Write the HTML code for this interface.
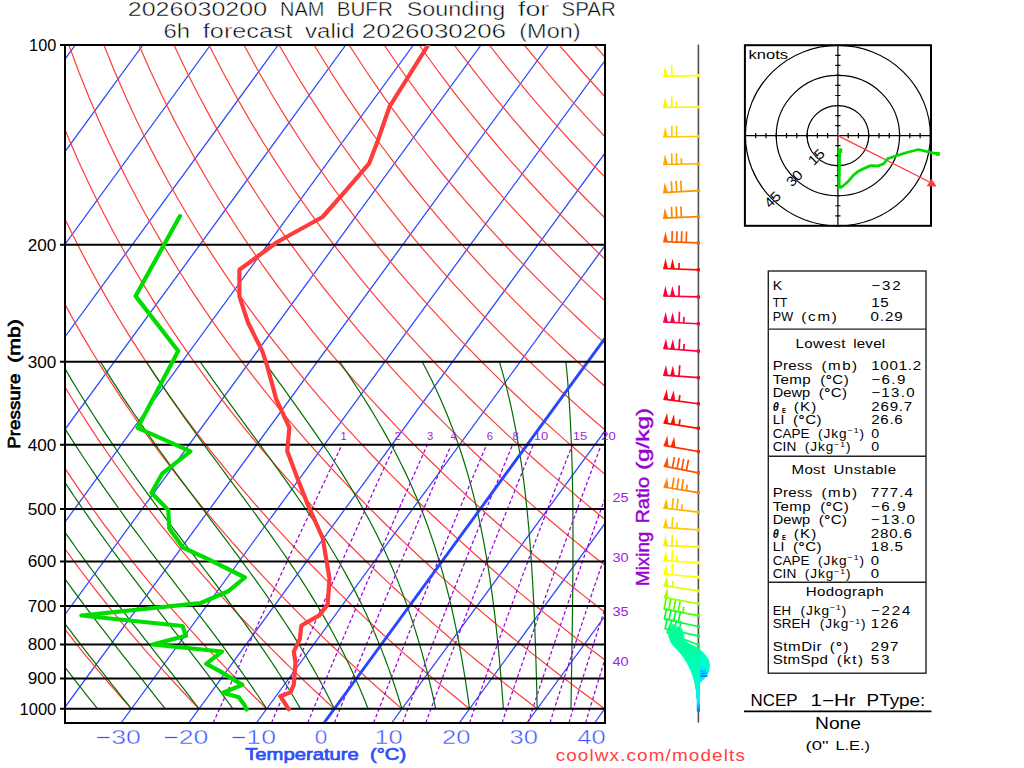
<!DOCTYPE html>
<html><head><meta charset="utf-8"><title>NAM BUFR Sounding SPAR</title><style>
html,body{margin:0;padding:0;background:#fff;}
body{width:1024px;height:768px;overflow:hidden;}
svg{display:block;}
.iso{stroke:#2a46ff;stroke-width:1.25;fill:none;}
.iso0{stroke:#2846ff;stroke-width:2.9;fill:none;}
.dry{stroke:#ff3c3c;stroke-width:1.2;fill:none;}
.moist{stroke:#006e00;stroke-width:1.2;fill:none;}
.mr{stroke:#a000e0;stroke-width:1.25;fill:none;stroke-dasharray:3.6 2.4;}
.pl{stroke:#000;stroke-width:2;}
.box{stroke:#000;stroke-width:2;fill:none;}
.temp{stroke:#ff3c3c;stroke-width:4.2;fill:none;stroke-linejoin:round;stroke-linecap:round;}
.dewp{stroke:#00dc00;stroke-width:4.2;fill:none;stroke-linejoin:round;stroke-linecap:round;}
text{font-family:"Liberation Sans",sans-serif;}
</style></head><body>
<svg width="1024" height="768" viewBox="0 0 1024 768">
<defs><clipPath id="box"><rect x="65" y="45" width="540" height="678"/></clipPath></defs>
<defs><clipPath id="hbox"><rect x="744.9" y="45.2" width="186.1" height="180.6"/></clipPath></defs>
<rect width="1024" height="768" fill="#fff"/>
<g clip-path="url(#box)">
<line x1="-690.52" y1="723.00" x2="-195.24" y2="45.00" class="iso"/>
<line x1="-622.89" y1="723.00" x2="-127.61" y2="45.00" class="iso"/>
<line x1="-555.26" y1="723.00" x2="-59.98" y2="45.00" class="iso"/>
<line x1="-487.63" y1="723.00" x2="7.65" y2="45.00" class="iso"/>
<line x1="-420.00" y1="723.00" x2="75.28" y2="45.00" class="iso"/>
<line x1="-352.37" y1="723.00" x2="142.91" y2="45.00" class="iso"/>
<line x1="-284.74" y1="723.00" x2="210.54" y2="45.00" class="iso"/>
<line x1="-217.11" y1="723.00" x2="278.17" y2="45.00" class="iso"/>
<line x1="-149.48" y1="723.00" x2="345.80" y2="45.00" class="iso"/>
<line x1="-81.85" y1="723.00" x2="413.43" y2="45.00" class="iso"/>
<line x1="-14.22" y1="723.00" x2="481.06" y2="45.00" class="iso"/>
<line x1="53.41" y1="723.00" x2="548.69" y2="45.00" class="iso"/>
<line x1="121.04" y1="723.00" x2="616.32" y2="45.00" class="iso"/>
<line x1="188.67" y1="723.00" x2="683.95" y2="45.00" class="iso"/>
<line x1="256.30" y1="723.00" x2="751.58" y2="45.00" class="iso"/>
<line x1="391.56" y1="723.00" x2="886.84" y2="45.00" class="iso"/>
<line x1="459.19" y1="723.00" x2="954.47" y2="45.00" class="iso"/>
<line x1="526.82" y1="723.00" x2="1022.10" y2="45.00" class="iso"/>
<line x1="594.45" y1="723.00" x2="1089.73" y2="45.00" class="iso"/>
<line x1="662.08" y1="723.00" x2="1157.36" y2="45.00" class="iso"/>
<polyline points="63.77,708.81 61.37,705.91 58.95,702.99 56.52,700.03 54.08,697.04 51.63,694.02 49.17,690.97 46.70,687.89 44.21,684.77 41.71,681.62 39.20,678.44 36.68,675.22 34.14,671.96 31.59,668.66 29.03,665.33 26.46,661.96 23.87,658.55 21.27,655.10 18.65,651.60 16.02,648.06 13.38,644.48 10.72,640.86 8.05,637.18 5.36,633.46 2.66,629.69 -0.06,625.88 -2.79,622.01 -5.54,618.08 -8.30,614.11 -11.08,610.08 -13.88,605.99 -16.69,601.84 -19.52,597.63 -22.36,593.36 -25.22,589.02 -28.10,584.62 -31.00,580.15 -33.92,575.61 -36.85,571.00 -39.80,566.31 -42.77,561.55 -45.76,556.70 -48.76,551.77 -51.79,546.76 -54.84,541.66 -57.90,536.46 -60.99,531.17 -64.09,525.78 -67.22,520.29 -70.37,514.69 -73.54,508.98 -76.73,503.16 -79.94,497.22 -83.17,491.15 -86.43,484.95 -89.70,478.61 -93.00,472.13 -96.33,465.50 -99.67,458.72 -103.04,451.77 -106.43,444.65 -109.85,437.36 -113.29,429.87 -116.75,422.18 -120.23,414.28 -123.74,406.16 -127.27,397.80 -130.82,389.20 -134.40,380.32 -137.99,371.17 -141.61,361.72 -145.24,351.95 -148.90,341.83 -152.57,331.34 -156.25,320.46 -159.95,309.16 -163.66,297.39 -167.37,285.12 -171.08,272.30 -174.79,258.89 -178.49,244.83 -182.18,230.04 -185.83,214.45 -189.44,197.97 -192.99,180.50 -196.47,161.89 -199.83,142.00 -203.06,120.64 -206.11,97.56 -208.91,72.48 -211.38,45.00" class="dry"/>
<polyline points="131.40,708.81 128.80,705.91 126.19,702.99 123.57,700.03 120.93,697.04 118.28,694.02 115.62,690.97 112.94,687.89 110.25,684.77 107.55,681.62 104.83,678.44 102.09,675.22 99.35,671.96 96.59,668.66 93.81,665.33 91.02,661.96 88.21,658.55 85.39,655.10 82.55,651.60 79.70,648.06 76.83,644.48 73.94,640.86 71.04,637.18 68.12,633.46 65.19,629.69 62.23,625.88 59.26,622.01 56.28,618.08 53.27,614.11 50.24,610.08 47.20,605.99 44.14,601.84 41.06,597.63 37.96,593.36 34.83,589.02 31.69,584.62 28.53,580.15 25.35,575.61 22.15,571.00 18.92,566.31 15.68,561.55 12.41,556.70 9.12,551.77 5.81,546.76 2.47,541.66 -0.89,536.46 -4.27,531.17 -7.68,525.78 -11.12,520.29 -14.57,514.69 -18.06,508.98 -21.57,503.16 -25.10,497.22 -28.66,491.15 -32.25,484.95 -35.87,478.61 -39.51,472.13 -43.19,465.50 -46.89,458.72 -50.62,451.77 -54.38,444.65 -58.17,437.36 -61.99,429.87 -65.84,422.18 -69.72,414.28 -73.64,406.16 -77.58,397.80 -81.55,389.20 -85.56,380.32 -89.59,371.17 -93.66,361.72 -97.76,351.95 -101.89,341.83 -106.04,331.34 -110.23,320.46 -114.44,309.16 -118.67,297.39 -122.93,285.12 -127.20,272.30 -131.49,258.89 -135.79,244.83 -140.10,230.04 -144.39,214.45 -148.67,197.97 -152.93,180.50 -157.13,161.89 -161.27,142.00 -165.31,120.64 -169.21,97.56 -172.91,72.48 -176.35,45.00" class="dry"/>
<polyline points="199.03,708.81 196.24,705.91 193.43,702.99 190.61,700.03 187.78,697.04 184.93,694.02 182.06,690.97 179.18,687.89 176.29,684.77 173.38,681.62 170.45,678.44 167.51,675.22 164.55,671.96 161.58,668.66 158.59,665.33 155.58,661.96 152.56,658.55 149.51,655.10 146.46,651.60 143.38,648.06 140.28,644.48 137.17,640.86 134.04,637.18 130.89,633.46 127.72,629.69 124.53,625.88 121.32,622.01 118.09,618.08 114.84,614.11 111.57,610.08 108.28,605.99 104.97,601.84 101.63,597.63 98.27,593.36 94.89,589.02 91.49,584.62 88.07,580.15 84.62,575.61 81.14,571.00 77.65,566.31 74.12,561.55 70.58,556.70 67.00,551.77 63.40,546.76 59.78,541.66 56.12,536.46 52.44,531.17 48.73,525.78 44.99,520.29 41.22,514.69 37.42,508.98 33.59,503.16 29.74,497.22 25.84,491.15 21.92,484.95 17.97,478.61 13.98,472.13 9.95,465.50 5.89,458.72 1.80,451.77 -2.33,444.65 -6.49,437.36 -10.69,429.87 -14.93,422.18 -19.21,414.28 -23.53,406.16 -27.89,397.80 -32.28,389.20 -36.72,380.32 -41.20,371.17 -45.72,361.72 -50.28,351.95 -54.88,341.83 -59.52,331.34 -64.20,320.46 -68.93,309.16 -73.69,297.39 -78.49,285.12 -83.32,272.30 -88.19,258.89 -93.09,244.83 -98.02,230.04 -102.96,214.45 -107.91,197.97 -112.86,180.50 -117.80,161.89 -122.71,142.00 -127.55,120.64 -132.30,97.56 -136.92,72.48 -141.32,45.00" class="dry"/>
<polyline points="266.66,708.81 263.67,705.91 260.67,702.99 257.66,700.03 254.62,697.04 251.57,694.02 248.51,690.97 245.43,687.89 242.33,684.77 239.21,681.62 236.08,678.44 232.93,675.22 229.76,671.96 226.57,668.66 223.37,665.33 220.14,661.96 216.90,658.55 213.64,655.10 210.36,651.60 207.06,648.06 203.74,644.48 200.40,640.86 197.03,637.18 193.65,633.46 190.25,629.69 186.82,625.88 183.37,622.01 179.90,618.08 176.41,614.11 172.90,610.08 169.36,605.99 165.79,601.84 162.20,597.63 158.59,593.36 154.95,589.02 151.29,584.62 147.60,580.15 143.88,575.61 140.14,571.00 136.37,566.31 132.57,561.55 128.74,556.70 124.89,551.77 121.00,546.76 117.08,541.66 113.13,536.46 109.15,531.17 105.14,525.78 101.09,520.29 97.02,514.69 92.90,508.98 88.76,503.16 84.57,497.22 80.35,491.15 76.09,484.95 71.80,478.61 67.47,472.13 63.09,465.50 58.68,458.72 54.22,451.77 49.73,444.65 45.19,437.36 40.60,429.87 35.97,422.18 31.30,414.28 26.57,406.16 21.80,397.80 16.99,389.20 12.12,380.32 7.20,371.17 2.23,361.72 -2.79,351.95 -7.87,341.83 -12.99,331.34 -18.18,320.46 -23.41,309.16 -28.70,297.39 -34.05,285.12 -39.44,272.30 -44.89,258.89 -50.39,244.83 -55.94,230.04 -61.52,214.45 -67.15,197.97 -72.80,180.50 -78.47,161.89 -84.14,142.00 -89.80,120.64 -95.40,97.56 -100.92,72.48 -106.29,45.00" class="dry"/>
<polyline points="334.29,708.81 331.11,705.91 327.91,702.99 324.70,700.03 321.47,697.04 318.22,694.02 314.95,690.97 311.67,687.89 308.36,684.77 305.04,681.62 301.70,678.44 298.34,675.22 294.96,671.96 291.56,668.66 288.14,665.33 284.70,661.96 281.24,658.55 277.76,655.10 274.26,651.60 270.74,648.06 267.19,644.48 263.62,640.86 260.03,637.18 256.42,633.46 252.78,629.69 249.12,625.88 245.43,622.01 241.72,618.08 237.98,614.11 234.22,610.08 230.43,605.99 226.62,601.84 222.78,597.63 218.91,593.36 215.01,589.02 211.09,584.62 207.13,580.15 203.15,575.61 199.14,571.00 195.09,566.31 191.02,561.55 186.91,556.70 182.77,551.77 178.59,546.76 174.39,541.66 170.14,536.46 165.87,531.17 161.55,525.78 157.20,520.29 152.81,514.69 148.38,508.98 143.92,503.16 139.41,497.22 134.86,491.15 130.27,484.95 125.63,478.61 120.96,472.13 116.23,465.50 111.46,458.72 106.65,451.77 101.78,444.65 96.86,437.36 91.90,429.87 86.88,422.18 81.81,414.28 76.68,406.16 71.50,397.80 66.26,389.20 60.96,380.32 55.60,371.17 50.18,361.72 44.69,351.95 39.14,341.83 33.53,331.34 27.85,320.46 22.10,309.16 16.28,297.39 10.39,285.12 4.44,272.30 -1.59,258.89 -7.69,244.83 -13.85,230.04 -20.09,214.45 -26.38,197.97 -32.73,180.50 -39.14,161.89 -45.58,142.00 -52.04,120.64 -58.50,97.56 -64.92,72.48 -71.26,45.00" class="dry"/>
<polyline points="401.92,708.81 398.55,705.91 395.15,702.99 391.74,700.03 388.31,697.04 384.87,694.02 381.40,690.97 377.91,687.89 374.40,684.77 370.87,681.62 367.33,678.44 363.76,675.22 360.17,671.96 356.55,668.66 352.92,665.33 349.27,661.96 345.59,658.55 341.89,655.10 338.16,651.60 334.41,648.06 330.64,644.48 326.85,640.86 323.03,637.18 319.18,633.46 315.31,629.69 311.41,625.88 307.48,622.01 303.53,618.08 299.55,614.11 295.55,610.08 291.51,605.99 287.45,601.84 283.35,597.63 279.23,593.36 275.07,589.02 270.89,584.62 266.67,580.15 262.42,575.61 258.13,571.00 253.82,566.31 249.46,561.55 245.08,556.70 240.65,551.77 236.19,546.76 231.69,541.66 227.15,536.46 222.58,531.17 217.96,525.78 213.30,520.29 208.61,514.69 203.86,508.98 199.08,503.16 194.24,497.22 189.37,491.15 184.44,484.95 179.47,478.61 174.45,472.13 169.37,465.50 164.25,458.72 159.07,451.77 153.83,444.65 148.54,437.36 143.19,429.87 137.79,422.18 132.32,414.28 126.78,406.16 121.19,397.80 115.53,389.20 109.79,380.32 103.99,371.17 98.12,361.72 92.18,351.95 86.15,341.83 80.05,331.34 73.87,320.46 67.61,309.16 61.27,297.39 54.84,285.12 48.32,272.30 41.71,258.89 35.01,244.83 28.23,230.04 21.35,214.45 14.38,197.97 7.33,180.50 0.20,161.89 -7.01,142.00 -14.28,120.64 -21.60,97.56 -28.93,72.48 -36.23,45.00" class="dry"/>
<polyline points="469.55,708.81 465.98,705.91 462.40,702.99 458.79,700.03 455.16,697.04 451.51,694.02 447.84,690.97 444.15,687.89 440.44,684.77 436.71,681.62 432.95,678.44 429.17,675.22 425.37,671.96 421.55,668.66 417.70,665.33 413.83,661.96 409.93,658.55 406.01,655.10 402.06,651.60 398.09,648.06 394.10,644.48 390.07,640.86 386.02,637.18 381.94,633.46 377.84,629.69 373.70,625.88 369.54,622.01 365.35,618.08 361.13,614.11 356.87,610.08 352.59,605.99 348.27,601.84 343.93,597.63 339.55,593.36 335.13,589.02 330.69,584.62 326.20,580.15 321.68,575.61 317.13,571.00 312.54,566.31 307.91,561.55 303.24,556.70 298.53,551.77 293.79,546.76 289.00,541.66 284.17,536.46 279.29,531.17 274.37,525.78 269.41,520.29 264.40,514.69 259.34,508.98 254.24,503.16 249.08,497.22 243.88,491.15 238.62,484.95 233.30,478.61 227.94,472.13 222.51,465.50 217.03,458.72 211.49,451.77 205.89,444.65 200.22,437.36 194.49,429.87 188.69,422.18 182.83,414.28 176.89,406.16 170.88,397.80 164.79,389.20 158.63,380.32 152.39,371.17 146.07,361.72 139.66,351.95 133.16,341.83 126.58,331.34 119.90,320.46 113.12,309.16 106.25,297.39 99.28,285.12 92.20,272.30 85.01,258.89 77.71,244.83 70.31,230.04 62.78,214.45 55.15,197.97 47.39,180.50 39.53,161.89 31.55,142.00 23.47,120.64 15.31,97.56 7.07,72.48 -1.20,45.00" class="dry"/>
<polyline points="537.18,708.81 533.42,705.91 529.64,702.99 525.83,700.03 522.01,697.04 518.16,694.02 514.29,690.97 510.39,687.89 506.48,684.77 502.54,681.62 498.57,678.44 494.59,675.22 490.58,671.96 486.54,668.66 482.48,665.33 478.39,661.96 474.27,658.55 470.13,655.10 465.97,651.60 461.77,648.06 457.55,644.48 453.30,640.86 449.02,637.18 444.71,633.46 440.37,629.69 436.00,625.88 431.60,622.01 427.16,618.08 422.70,614.11 418.20,610.08 413.67,605.99 409.10,601.84 404.50,597.63 399.87,593.36 395.19,589.02 390.48,584.62 385.74,580.15 380.95,575.61 376.13,571.00 371.26,566.31 366.36,561.55 361.41,556.70 356.42,551.77 351.38,546.76 346.30,541.66 341.18,536.46 336.01,531.17 330.78,525.78 325.51,520.29 320.19,514.69 314.82,508.98 309.40,503.16 303.92,497.22 298.38,491.15 292.79,484.95 287.14,478.61 281.43,472.13 275.65,465.50 269.81,458.72 263.91,451.77 257.94,444.65 251.90,437.36 245.79,429.87 239.60,422.18 233.34,414.28 226.99,406.16 220.57,397.80 214.06,389.20 207.47,380.32 200.79,371.17 194.01,361.72 187.14,351.95 180.17,341.83 173.10,331.34 165.92,320.46 158.64,309.16 151.24,297.39 143.72,285.12 136.08,272.30 128.31,258.89 120.42,244.83 112.39,230.04 104.22,214.45 95.91,197.97 87.46,180.50 78.86,161.89 70.12,142.00 61.23,120.64 52.21,97.56 43.07,72.48 33.83,45.00" class="dry"/>
<polyline points="604.81,708.81 600.86,705.91 596.88,702.99 592.88,700.03 588.85,697.04 584.80,694.02 580.73,690.97 576.64,687.89 572.52,684.77 568.37,681.62 564.20,678.44 560.00,675.22 555.78,671.96 551.53,668.66 547.25,665.33 542.95,661.96 538.62,658.55 534.26,655.10 529.87,651.60 525.45,648.06 521.00,644.48 516.52,640.86 512.01,637.18 507.47,633.46 502.90,629.69 498.29,625.88 493.65,622.01 488.98,618.08 484.27,614.11 479.53,610.08 474.75,605.99 469.93,601.84 465.08,597.63 460.18,593.36 455.25,589.02 450.28,584.62 445.27,580.15 440.22,575.61 435.12,571.00 429.98,566.31 424.80,561.55 419.57,556.70 414.30,551.77 408.98,546.76 403.61,541.66 398.19,536.46 392.72,531.17 387.20,525.78 381.62,520.29 375.99,514.69 370.30,508.98 364.56,503.16 358.75,497.22 352.89,491.15 346.96,484.95 340.97,478.61 334.92,472.13 328.79,465.50 322.60,458.72 316.33,451.77 309.99,444.65 303.58,437.36 297.08,429.87 290.51,422.18 283.85,414.28 277.10,406.16 270.26,397.80 263.33,389.20 256.31,380.32 249.19,371.17 241.96,361.72 234.63,351.95 227.18,341.83 219.63,331.34 211.95,320.46 204.15,309.16 196.22,297.39 188.16,285.12 179.96,272.30 171.61,258.89 163.12,244.83 154.47,230.04 145.65,214.45 136.67,197.97 127.52,180.50 118.19,161.89 108.68,142.00 98.99,120.64 89.11,97.56 79.06,72.48 68.86,45.00" class="dry"/>
<polyline points="672.44,708.81 668.29,705.91 664.12,702.99 659.92,700.03 655.70,697.04 651.45,694.02 647.18,690.97 642.88,687.89 638.55,684.77 634.20,681.62 629.82,678.44 625.42,675.22 620.98,671.96 616.52,668.66 612.03,665.33 607.51,661.96 602.96,658.55 598.38,655.10 593.77,651.60 589.13,648.06 584.45,644.48 579.75,640.86 575.01,637.18 570.23,633.46 565.43,629.69 560.58,625.88 555.71,622.01 550.79,618.08 545.84,614.11 540.85,610.08 535.82,605.99 530.76,601.84 525.65,597.63 520.50,593.36 515.31,589.02 510.08,584.62 504.80,580.15 499.48,575.61 494.12,571.00 488.71,566.31 483.25,561.55 477.74,556.70 472.18,551.77 466.57,546.76 460.91,541.66 455.20,536.46 449.43,531.17 443.61,525.78 437.72,520.29 431.78,514.69 425.78,508.98 419.72,503.16 413.59,497.22 407.40,491.15 401.14,484.95 394.81,478.61 388.41,472.13 381.93,465.50 375.38,458.72 368.75,451.77 362.05,444.65 355.25,437.36 348.38,429.87 341.41,422.18 334.35,414.28 327.20,406.16 319.95,397.80 312.60,389.20 305.15,380.32 297.58,371.17 289.91,361.72 282.11,351.95 274.19,341.83 266.15,331.34 257.98,320.46 249.66,309.16 241.21,297.39 232.60,285.12 223.84,272.30 214.91,258.89 205.82,244.83 196.55,230.04 187.09,214.45 177.44,197.97 167.59,180.50 157.52,161.89 147.25,142.00 136.74,120.64 126.02,97.56 115.06,72.48 103.88,45.00" class="dry"/>
<polyline points="740.07,708.81 735.73,705.91 731.36,702.99 726.96,700.03 722.54,697.04 718.10,694.02 713.62,690.97 709.12,687.89 704.59,684.77 700.03,681.62 695.45,678.44 690.83,675.22 686.19,671.96 681.51,668.66 676.81,665.33 672.07,661.96 667.31,658.55 662.51,655.10 657.67,651.60 652.81,648.06 647.91,644.48 642.97,640.86 638.00,637.18 633.00,633.46 627.96,629.69 622.88,625.88 617.76,622.01 612.61,618.08 607.41,614.11 602.18,610.08 596.90,605.99 591.58,601.84 586.22,597.63 580.82,593.36 575.37,589.02 569.88,584.62 564.34,580.15 558.75,575.61 553.12,571.00 547.43,566.31 541.69,561.55 535.91,556.70 530.07,551.77 524.17,546.76 518.22,541.66 512.21,536.46 506.14,531.17 500.02,525.78 493.83,520.29 487.58,514.69 481.26,508.98 474.88,503.16 468.43,497.22 461.91,491.15 455.31,484.95 448.64,478.61 441.90,472.13 435.07,465.50 428.17,458.72 421.18,451.77 414.10,444.65 406.93,437.36 399.67,429.87 392.32,422.18 384.86,414.28 377.31,406.16 369.65,397.80 361.87,389.20 353.99,380.32 345.98,371.17 337.85,361.72 329.60,351.95 321.20,341.83 312.68,331.34 304.00,320.46 295.17,309.16 286.19,297.39 277.04,285.12 267.72,272.30 258.21,258.89 248.52,244.83 238.63,230.04 228.52,214.45 218.20,197.97 207.65,180.50 196.86,161.89 185.81,142.00 174.50,120.64 162.92,97.56 151.06,72.48 138.91,45.00" class="dry"/>
<polyline points="807.70,708.81 803.16,705.91 798.60,702.99 794.01,700.03 789.39,697.04 784.74,694.02 780.07,690.97 775.36,687.89 770.63,684.77 765.87,681.62 761.07,678.44 756.25,675.22 751.39,671.96 746.51,668.66 741.59,665.33 736.64,661.96 731.65,658.55 726.63,655.10 721.58,651.60 716.49,648.06 711.36,644.48 706.20,640.86 701.00,637.18 695.76,633.46 690.49,629.69 685.17,625.88 679.82,622.01 674.42,618.08 668.98,614.11 663.50,610.08 657.98,605.99 652.41,601.84 646.80,597.63 641.14,593.36 635.43,589.02 629.68,584.62 623.87,580.15 618.02,575.61 612.11,571.00 606.15,566.31 600.14,561.55 594.07,556.70 587.95,551.77 581.77,546.76 575.53,541.66 569.22,536.46 562.86,531.17 556.43,525.78 549.93,520.29 543.37,514.69 536.74,508.98 530.04,503.16 523.26,497.22 516.41,491.15 509.49,484.95 502.48,478.61 495.39,472.13 488.21,465.50 480.95,458.72 473.60,451.77 466.15,444.65 458.61,437.36 450.97,429.87 443.23,422.18 435.37,414.28 427.41,406.16 419.34,397.80 411.14,389.20 402.82,380.32 394.38,371.17 385.80,361.72 377.08,351.95 368.22,341.83 359.20,331.34 350.03,320.46 340.69,309.16 331.18,297.39 321.48,285.12 311.60,272.30 301.52,258.89 291.22,244.83 280.71,230.04 269.96,214.45 258.97,197.97 247.71,180.50 236.19,161.89 224.38,142.00 212.26,120.64 199.82,97.56 187.05,72.48 173.94,45.00" class="dry"/>
<polyline points="875.33,708.81 870.60,705.91 865.84,702.99 861.05,700.03 856.23,697.04 851.39,694.02 846.51,690.97 841.61,687.89 836.67,684.77 831.70,681.62 826.70,678.44 821.66,675.22 816.60,671.96 811.50,668.66 806.37,665.33 801.20,661.96 795.99,658.55 790.75,655.10 785.48,651.60 780.16,648.06 774.81,644.48 769.42,640.86 764.00,637.18 758.53,633.46 753.02,629.69 747.47,625.88 741.87,622.01 736.24,618.08 730.55,614.11 724.83,610.08 719.06,605.99 713.24,601.84 707.37,597.63 701.46,593.36 695.49,589.02 689.48,584.62 683.41,580.15 677.28,575.61 671.11,571.00 664.88,566.31 658.59,561.55 652.24,556.70 645.83,551.77 639.36,546.76 632.83,541.66 626.23,536.46 619.57,531.17 612.84,525.78 606.04,520.29 599.17,514.69 592.22,508.98 585.20,503.16 578.10,497.22 570.92,491.15 563.66,484.95 556.31,478.61 548.88,472.13 541.35,465.50 533.73,458.72 526.02,451.77 518.21,444.65 510.29,437.36 502.27,429.87 494.13,422.18 485.88,414.28 477.52,406.16 469.03,397.80 460.41,389.20 451.66,380.32 442.78,371.17 433.74,361.72 424.56,351.95 415.23,341.83 405.72,331.34 396.05,320.46 386.20,309.16 376.16,297.39 365.92,285.12 355.48,272.30 344.82,258.89 333.92,244.83 322.79,230.04 311.40,214.45 299.73,197.97 287.78,180.50 275.52,161.89 262.94,142.00 250.01,120.64 236.73,97.56 223.05,72.48 208.97,45.00" class="dry"/>
<polyline points="942.96,708.81 938.04,705.91 933.08,702.99 928.10,700.03 923.08,697.04 918.03,694.02 912.96,690.97 907.85,687.89 902.71,684.77 897.53,681.62 892.32,678.44 887.08,675.22 881.80,671.96 876.49,668.66 871.14,665.33 865.76,661.96 860.34,658.55 854.88,655.10 849.38,651.60 843.84,648.06 838.27,644.48 832.65,640.86 826.99,637.18 821.29,633.46 815.55,629.69 809.76,625.88 803.93,622.01 798.05,618.08 792.13,614.11 786.15,610.08 780.13,605.99 774.07,601.84 767.95,597.63 761.77,593.36 755.55,589.02 749.27,584.62 742.94,580.15 736.55,575.61 730.11,571.00 723.60,566.31 717.03,561.55 710.41,556.70 703.71,551.77 696.96,546.76 690.14,541.66 683.25,536.46 676.28,531.17 669.25,525.78 662.14,520.29 654.96,514.69 647.70,508.98 640.36,503.16 632.94,497.22 625.43,491.15 617.83,484.95 610.15,478.61 602.37,472.13 594.49,465.50 586.52,458.72 578.44,451.77 570.26,444.65 561.97,437.36 553.56,429.87 545.04,422.18 536.39,414.28 527.62,406.16 518.72,397.80 509.68,389.20 500.50,380.32 491.17,371.17 481.69,361.72 472.05,351.95 462.24,341.83 452.25,331.34 442.08,320.46 431.71,309.16 421.15,297.39 410.36,285.12 399.36,272.30 388.12,258.89 376.63,244.83 364.87,230.04 352.83,214.45 340.50,197.97 327.84,180.50 314.85,161.89 301.50,142.00 287.77,120.64 273.63,97.56 259.05,72.48 244.00,45.00" class="dry"/>
<polyline points="1010.59,708.81 1005.47,705.91 1000.32,702.99 995.14,700.03 989.93,697.04 984.68,694.02 979.40,690.97 974.09,687.89 968.74,684.77 963.36,681.62 957.95,678.44 952.50,675.22 947.01,671.96 941.48,668.66 935.92,665.33 930.32,661.96 924.68,658.55 919.00,655.10 913.28,651.60 907.52,648.06 901.72,644.48 895.87,640.86 889.99,637.18 884.05,633.46 878.08,629.69 872.05,625.88 865.98,622.01 859.86,618.08 853.70,614.11 847.48,610.08 841.21,605.99 834.89,601.84 828.52,597.63 822.09,593.36 815.61,589.02 809.07,584.62 802.47,580.15 795.82,575.61 789.10,571.00 782.32,566.31 775.48,561.55 768.57,556.70 761.60,551.77 754.55,546.76 747.44,541.66 740.26,536.46 733.00,531.17 725.66,525.78 718.25,520.29 710.76,514.69 703.18,508.98 695.52,503.16 687.77,497.22 679.94,491.15 672.01,484.95 663.98,478.61 655.86,472.13 647.63,465.50 639.30,458.72 630.86,451.77 622.31,444.65 613.64,437.36 604.86,429.87 595.95,422.18 586.90,414.28 577.73,406.16 568.41,397.80 558.95,389.20 549.34,380.32 539.57,371.17 529.64,361.72 519.53,351.95 509.25,341.83 498.77,331.34 488.10,320.46 477.22,309.16 466.13,297.39 454.81,285.12 443.24,272.30 431.42,258.89 419.33,244.83 406.95,230.04 394.27,214.45 381.26,197.97 367.91,180.50 354.19,161.89 340.07,142.00 325.53,120.64 310.53,97.56 295.05,72.48 279.03,45.00" class="dry"/>
<polyline points="1078.22,708.81 1072.91,705.91 1067.56,702.99 1062.18,700.03 1056.77,697.04 1051.33,694.02 1045.85,690.97 1040.33,687.89 1034.78,684.77 1029.19,681.62 1023.57,678.44 1017.91,675.22 1012.21,671.96 1006.47,668.66 1000.70,665.33 994.88,661.96 989.02,658.55 983.13,655.10 977.18,651.60 971.20,648.06 965.17,644.48 959.10,640.86 952.98,637.18 946.82,633.46 940.61,629.69 934.35,625.88 928.04,622.01 921.68,618.08 915.27,614.11 908.81,610.08 902.29,605.99 895.72,601.84 889.09,597.63 882.41,593.36 875.67,589.02 868.87,584.62 862.01,580.15 855.09,575.61 848.10,571.00 841.05,566.31 833.93,561.55 826.74,556.70 819.48,551.77 812.15,546.76 804.75,541.66 797.27,536.46 789.71,531.17 782.07,525.78 774.35,520.29 766.55,514.69 758.66,508.98 750.68,503.16 742.61,497.22 734.44,491.15 726.18,484.95 717.82,478.61 709.35,472.13 700.77,465.50 692.09,458.72 683.28,451.77 674.37,444.65 665.32,437.36 656.15,429.87 646.85,422.18 637.41,414.28 627.83,406.16 618.10,397.80 608.22,389.20 598.18,380.32 587.97,371.17 577.58,361.72 567.01,351.95 556.26,341.83 545.30,331.34 534.13,320.46 522.74,309.16 511.11,297.39 499.25,285.12 487.12,272.30 474.72,258.89 462.03,244.83 449.03,230.04 435.70,214.45 422.02,197.97 407.97,180.50 393.52,161.89 378.63,142.00 363.28,120.64 347.43,97.56 331.04,72.48 314.06,45.00" class="dry"/>
<polyline points="1145.85,708.81 1140.34,705.91 1134.80,702.99 1129.23,700.03 1123.62,697.04 1117.97,694.02 1112.29,690.97 1106.57,687.89 1100.82,684.77 1095.03,681.62 1089.20,678.44 1083.33,675.22 1077.42,671.96 1071.47,668.66 1065.48,665.33 1059.44,661.96 1053.37,658.55 1047.25,655.10 1041.09,651.60 1034.88,648.06 1028.63,644.48 1022.33,640.86 1015.98,637.18 1009.58,633.46 1003.14,629.69 996.64,625.88 990.09,622.01 983.49,618.08 976.84,614.11 970.13,610.08 963.37,605.99 956.55,601.84 949.67,597.63 942.73,593.36 935.73,589.02 928.67,584.62 921.54,580.15 914.35,575.61 907.09,571.00 899.77,566.31 892.37,561.55 884.90,556.70 877.36,551.77 869.75,546.76 862.05,541.66 854.28,536.46 846.42,531.17 838.48,525.78 830.46,520.29 822.35,514.69 814.14,508.98 805.84,503.16 797.45,497.22 788.95,491.15 780.35,484.95 771.65,478.61 762.84,472.13 753.91,465.50 744.87,458.72 735.71,451.77 726.42,444.65 717.00,437.36 707.45,429.87 697.76,422.18 687.92,414.28 677.94,406.16 667.80,397.80 657.49,389.20 647.02,380.32 636.36,371.17 625.53,361.72 614.50,351.95 603.27,341.83 591.82,331.34 580.15,320.46 568.25,309.16 556.10,297.39 543.69,285.12 531.00,272.30 518.02,258.89 504.73,244.83 491.11,230.04 477.14,214.45 462.79,197.97 448.04,180.50 432.85,161.89 417.20,142.00 401.04,120.64 384.34,97.56 367.04,72.48 349.09,45.00" class="dry"/>
<polyline points="1213.48,708.81 1207.78,705.91 1202.04,702.99 1196.27,700.03 1190.46,697.04 1184.62,694.02 1178.74,690.97 1172.82,687.89 1166.86,684.77 1160.86,681.62 1154.82,678.44 1148.74,675.22 1142.62,671.96 1136.46,668.66 1130.25,665.33 1124.00,661.96 1117.71,658.55 1111.37,655.10 1104.99,651.60 1098.56,648.06 1092.08,644.48 1085.55,640.86 1078.97,637.18 1072.35,633.46 1065.67,629.69 1058.93,625.88 1052.15,622.01 1045.31,618.08 1038.41,614.11 1031.46,610.08 1024.45,605.99 1017.37,601.84 1010.24,597.63 1003.05,593.36 995.79,589.02 988.47,584.62 981.08,580.15 973.62,575.61 966.09,571.00 958.49,566.31 950.82,561.55 943.07,556.70 935.25,551.77 927.34,546.76 919.36,541.66 911.29,536.46 903.14,531.17 894.90,525.78 886.56,520.29 878.14,514.69 869.62,508.98 861.00,503.16 852.28,497.22 843.46,491.15 834.53,484.95 825.49,478.61 816.33,472.13 807.05,465.50 797.65,458.72 788.13,451.77 778.47,444.65 768.68,437.36 758.75,429.87 748.67,422.18 738.43,414.28 728.04,406.16 717.49,397.80 706.76,389.20 695.85,380.32 684.76,371.17 673.47,361.72 661.98,351.95 650.28,341.83 638.35,331.34 626.18,320.46 613.76,309.16 601.08,297.39 588.13,285.12 574.88,272.30 561.32,258.89 547.43,244.83 533.19,230.04 518.57,214.45 503.55,197.97 488.10,180.50 472.18,161.89 455.76,142.00 438.80,120.64 421.24,97.56 403.04,72.48 384.12,45.00" class="dry"/>
<polyline points="1281.11,708.81 1275.22,705.91 1269.28,702.99 1263.32,700.03 1257.31,697.04 1251.27,694.02 1245.18,690.97 1239.06,687.89 1232.90,684.77 1226.69,681.62 1220.45,678.44 1214.16,675.22 1207.83,671.96 1201.45,668.66 1195.03,665.33 1188.57,661.96 1182.06,658.55 1175.50,655.10 1168.89,651.60 1162.24,648.06 1155.53,644.48 1148.78,640.86 1141.97,637.18 1135.11,633.46 1128.20,629.69 1121.23,625.88 1114.20,622.01 1107.12,618.08 1099.98,614.11 1092.78,610.08 1085.52,605.99 1078.20,601.84 1070.82,597.63 1063.37,593.36 1055.85,589.02 1048.26,584.62 1040.61,580.15 1032.89,575.61 1025.09,571.00 1017.21,566.31 1009.27,561.55 1001.24,556.70 993.13,551.77 984.94,546.76 976.66,541.66 968.30,536.46 959.85,531.17 951.31,525.78 942.67,520.29 933.94,514.69 925.10,508.98 916.16,503.16 907.12,497.22 897.97,491.15 888.70,484.95 879.32,478.61 869.82,472.13 860.19,465.50 850.44,458.72 840.55,451.77 830.53,444.65 820.36,437.36 810.04,429.87 799.57,422.18 788.94,414.28 778.15,406.16 767.18,397.80 756.03,389.20 744.69,380.32 733.16,371.17 721.42,361.72 709.47,351.95 697.29,341.83 684.87,331.34 672.20,320.46 659.28,309.16 646.07,297.39 632.57,285.12 618.76,272.30 604.62,258.89 590.13,244.83 575.27,230.04 560.01,214.45 544.32,197.97 528.16,180.50 511.51,161.89 494.33,142.00 476.55,120.64 458.14,97.56 439.03,72.48 419.15,45.00" class="dry"/>
<polyline points="1348.74,708.81 1342.65,705.91 1336.53,702.99 1330.36,700.03 1324.16,697.04 1317.91,694.02 1311.63,690.97 1305.30,687.89 1298.93,684.77 1292.52,681.62 1286.07,678.44 1279.57,675.22 1273.03,671.96 1266.44,668.66 1259.81,665.33 1253.13,661.96 1246.40,658.55 1239.62,655.10 1232.79,651.60 1225.91,648.06 1218.98,644.48 1212.00,640.86 1204.97,637.18 1197.87,633.46 1190.73,629.69 1183.52,625.88 1176.26,622.01 1168.94,618.08 1161.55,614.11 1154.11,610.08 1146.60,605.99 1139.03,601.84 1131.39,597.63 1123.68,593.36 1115.91,589.02 1108.06,584.62 1100.14,580.15 1092.15,575.61 1084.08,571.00 1075.94,566.31 1067.71,561.55 1059.40,556.70 1051.01,551.77 1042.54,546.76 1033.97,541.66 1025.31,536.46 1016.56,531.17 1007.72,525.78 998.77,520.29 989.73,514.69 980.58,508.98 971.32,503.16 961.96,497.22 952.47,491.15 942.88,484.95 933.15,478.61 923.31,472.13 913.33,465.50 903.22,458.72 892.97,451.77 882.58,444.65 872.04,437.36 861.34,429.87 850.48,422.18 839.45,414.28 828.25,406.16 816.87,397.80 805.30,389.20 793.53,380.32 781.56,371.17 769.37,361.72 756.95,351.95 744.30,341.83 731.39,331.34 718.23,320.46 704.79,309.16 691.05,297.39 677.01,285.12 662.64,272.30 647.92,258.89 632.83,244.83 617.35,230.04 601.44,214.45 585.08,197.97 568.23,180.50 550.85,161.89 532.89,142.00 514.31,120.64 495.05,97.56 475.03,72.48 454.18,45.00" class="dry"/>
<polyline points="1416.37,708.81 1410.09,705.91 1403.77,702.99 1397.40,700.03 1391.00,697.04 1384.56,694.02 1378.07,690.97 1371.54,687.89 1364.97,684.77 1358.36,681.62 1351.69,678.44 1344.99,675.22 1338.24,671.96 1331.43,668.66 1324.59,665.33 1317.69,661.96 1310.74,658.55 1303.75,655.10 1296.70,651.60 1289.59,648.06 1282.44,644.48 1275.23,640.86 1267.96,637.18 1260.64,633.46 1253.26,629.69 1245.82,625.88 1238.31,622.01 1230.75,618.08 1223.13,614.11 1215.44,610.08 1207.68,605.99 1199.86,601.84 1191.96,597.63 1184.00,593.36 1175.97,589.02 1167.86,584.62 1159.68,580.15 1151.42,575.61 1143.08,571.00 1134.66,566.31 1126.16,561.55 1117.57,556.70 1108.90,551.77 1100.13,546.76 1091.27,541.66 1082.32,536.46 1073.28,531.17 1064.13,525.78 1054.88,520.29 1045.52,514.69 1036.06,508.98 1026.48,503.16 1016.79,497.22 1006.98,491.15 997.05,484.95 986.99,478.61 976.80,472.13 966.47,465.50 956.01,458.72 945.39,451.77 934.63,444.65 923.71,437.36 912.63,429.87 901.39,422.18 889.96,414.28 878.36,406.16 866.56,397.80 854.57,389.20 842.37,380.32 829.95,371.17 817.31,361.72 804.43,351.95 791.31,341.83 777.92,331.34 764.25,320.46 750.30,309.16 736.04,297.39 721.45,285.12 706.52,272.30 691.22,258.89 675.54,244.83 659.43,230.04 642.88,214.45 625.84,197.97 608.29,180.50 590.18,161.89 571.46,142.00 552.07,120.64 531.95,97.56 511.03,72.48 489.21,45.00" class="dry"/>
<polyline points="1484.00,708.81 1477.52,705.91 1471.01,702.99 1464.45,700.03 1457.85,697.04 1451.20,694.02 1444.52,690.97 1437.79,687.89 1431.01,684.77 1424.19,681.62 1417.32,678.44 1410.40,675.22 1403.44,671.96 1396.43,668.66 1389.36,665.33 1382.25,661.96 1375.09,658.55 1367.87,655.10 1360.60,651.60 1353.27,648.06 1345.89,644.48 1338.45,640.86 1330.96,637.18 1323.40,633.46 1315.79,629.69 1308.11,625.88 1300.37,622.01 1292.57,618.08 1284.70,614.11 1276.76,610.08 1268.76,605.99 1260.68,601.84 1252.54,597.63 1244.32,593.36 1236.03,589.02 1227.66,584.62 1219.21,580.15 1210.69,575.61 1202.08,571.00 1193.38,566.31 1184.60,561.55 1175.74,556.70 1166.78,551.77 1157.73,546.76 1148.58,541.66 1139.34,536.46 1129.99,531.17 1120.54,525.78 1110.98,520.29 1101.32,514.69 1091.54,508.98 1081.64,503.16 1071.63,497.22 1061.49,491.15 1051.22,484.95 1040.82,478.61 1030.29,472.13 1019.61,465.50 1008.79,458.72 997.82,451.77 986.68,444.65 975.39,437.36 963.93,429.87 952.29,422.18 940.47,414.28 928.46,406.16 916.25,397.80 903.84,389.20 891.21,380.32 878.35,371.17 865.26,361.72 851.92,351.95 838.32,341.83 824.44,331.34 810.28,320.46 795.81,309.16 781.02,297.39 765.89,285.12 750.40,272.30 734.53,258.89 718.24,244.83 701.51,230.04 684.31,214.45 666.61,197.97 648.36,180.50 629.51,161.89 610.02,142.00 589.82,120.64 568.85,97.56 547.02,72.48 524.24,45.00" class="dry"/>
<polyline points="1551.63,708.81 1544.96,705.91 1538.25,702.99 1531.49,700.03 1524.69,697.04 1517.85,694.02 1510.96,690.97 1504.03,687.89 1497.05,684.77 1490.02,681.62 1482.94,678.44 1475.82,675.22 1468.64,671.96 1461.42,668.66 1454.14,665.33 1446.81,661.96 1439.43,658.55 1431.99,655.10 1424.50,651.60 1416.95,648.06 1409.34,644.48 1401.68,640.86 1393.95,637.18 1386.17,633.46 1378.32,629.69 1370.40,625.88 1362.43,622.01 1354.38,618.08 1346.27,614.11 1338.09,610.08 1329.84,605.99 1321.51,601.84 1313.11,597.63 1304.64,593.36 1296.09,589.02 1287.46,584.62 1278.75,580.15 1269.95,575.61 1261.07,571.00 1252.11,566.31 1243.05,561.55 1233.90,556.70 1224.66,551.77 1215.32,546.76 1205.89,541.66 1196.35,536.46 1186.70,531.17 1176.95,525.78 1167.09,520.29 1157.11,514.69 1147.02,508.98 1136.81,503.16 1126.47,497.22 1116.00,491.15 1105.40,484.95 1094.66,478.61 1083.78,472.13 1072.75,465.50 1061.57,458.72 1050.24,451.77 1038.74,444.65 1027.07,437.36 1015.23,429.87 1003.20,422.18 990.98,414.28 978.57,406.16 965.94,397.80 953.11,389.20 940.05,380.32 926.75,371.17 913.21,361.72 899.40,351.95 885.33,341.83 870.97,331.34 856.31,320.46 841.33,309.16 826.01,297.39 810.33,285.12 794.28,272.30 777.83,258.89 760.94,244.83 743.59,230.04 725.75,214.45 707.37,197.97 688.42,180.50 668.84,161.89 648.58,142.00 627.58,120.64 605.75,97.56 583.02,72.48 559.27,45.00" class="dry"/>
<polyline points="1619.26,708.81 1612.40,705.91 1605.49,702.99 1598.54,700.03 1591.54,697.04 1584.50,694.02 1577.41,690.97 1570.27,687.89 1563.08,684.77 1555.85,681.62 1548.57,678.44 1541.23,675.22 1533.85,671.96 1526.41,668.66 1518.92,665.33 1511.37,661.96 1503.77,658.55 1496.12,655.10 1488.40,651.60 1480.63,648.06 1472.80,644.48 1464.90,640.86 1456.95,637.18 1448.93,633.46 1440.85,629.69 1432.70,625.88 1424.48,622.01 1416.20,618.08 1407.84,614.11 1399.41,610.08 1390.91,605.99 1382.34,601.84 1373.69,597.63 1364.96,593.36 1356.15,589.02 1347.26,584.62 1338.28,580.15 1329.22,575.61 1320.07,571.00 1310.83,566.31 1301.50,561.55 1292.07,556.70 1282.54,551.77 1272.92,546.76 1263.19,541.66 1253.36,536.46 1243.42,531.17 1233.36,525.78 1223.19,520.29 1212.91,514.69 1202.50,508.98 1191.97,503.16 1181.30,497.22 1170.51,491.15 1159.57,484.95 1148.49,478.61 1137.27,472.13 1125.89,465.50 1114.36,458.72 1102.66,451.77 1090.79,444.65 1078.75,437.36 1066.52,429.87 1054.11,422.18 1041.49,414.28 1028.67,406.16 1015.64,397.80 1002.38,389.20 988.88,380.32 975.15,371.17 961.15,361.72 946.89,351.95 932.34,341.83 917.49,331.34 902.33,320.46 886.84,309.16 870.99,297.39 854.78,285.12 838.16,272.30 821.13,258.89 803.64,244.83 785.67,230.04 767.18,214.45 748.14,197.97 728.49,180.50 708.18,161.89 687.15,142.00 665.34,120.64 642.66,97.56 619.02,72.48 594.30,45.00" class="dry"/>
<polyline points="1686.89,708.81 1679.83,705.91 1672.73,702.99 1665.58,700.03 1658.38,697.04 1651.14,694.02 1643.85,690.97 1636.51,687.89 1629.12,684.77 1621.68,681.62 1614.19,678.44 1606.65,675.22 1599.05,671.96 1591.40,668.66 1583.70,665.33 1575.94,661.96 1568.12,658.55 1560.24,655.10 1552.30,651.60 1544.31,648.06 1536.25,644.48 1528.13,640.86 1519.94,637.18 1511.69,633.46 1503.38,629.69 1494.99,625.88 1486.54,622.01 1478.01,618.08 1469.41,614.11 1460.74,610.08 1451.99,605.99 1443.17,601.84 1434.26,597.63 1425.28,593.36 1416.21,589.02 1407.05,584.62 1397.81,580.15 1388.49,575.61 1379.07,571.00 1369.55,566.31 1359.94,561.55 1350.24,556.70 1340.43,551.77 1330.52,546.76 1320.50,541.66 1310.37,536.46 1300.13,531.17 1289.77,525.78 1279.30,520.29 1268.70,514.69 1257.98,508.98 1247.13,503.16 1236.14,497.22 1225.01,491.15 1213.74,484.95 1202.33,478.61 1190.76,472.13 1179.03,465.50 1167.14,458.72 1155.08,451.77 1142.84,444.65 1130.43,437.36 1117.82,429.87 1105.01,422.18 1092.00,414.28 1078.78,406.16 1065.33,397.80 1051.65,389.20 1037.72,380.32 1023.54,371.17 1009.10,361.72 994.37,351.95 979.35,341.83 964.02,331.34 948.36,320.46 932.35,309.16 915.98,297.39 899.22,285.12 882.04,272.30 864.43,258.89 846.34,244.83 827.75,230.04 808.62,214.45 788.90,197.97 768.55,180.50 747.51,161.89 725.71,142.00 703.09,120.64 679.56,97.56 655.01,72.48 629.33,45.00" class="dry"/>
<polyline points="1754.52,708.81 1747.27,705.91 1739.97,702.99 1732.62,700.03 1725.23,697.04 1717.79,694.02 1710.30,690.97 1702.75,687.89 1695.16,684.77 1687.52,681.62 1679.82,678.44 1672.06,675.22 1664.26,671.96 1656.40,668.66 1648.48,665.33 1640.50,661.96 1632.46,658.55 1624.36,655.10 1616.21,651.60 1607.99,648.06 1599.70,644.48 1591.35,640.86 1582.94,637.18 1574.46,633.46 1565.91,629.69 1557.28,625.88 1548.59,622.01 1539.82,618.08 1530.98,614.11 1522.07,610.08 1513.07,605.99 1503.99,601.84 1494.84,597.63 1485.59,593.36 1476.27,589.02 1466.85,584.62 1457.35,580.15 1447.75,575.61 1438.06,571.00 1428.28,566.31 1418.39,561.55 1408.40,556.70 1398.31,551.77 1388.11,546.76 1377.80,541.66 1367.38,536.46 1356.84,531.17 1346.19,525.78 1335.40,520.29 1324.50,514.69 1313.46,508.98 1302.29,503.16 1290.98,497.22 1279.52,491.15 1267.92,484.95 1256.16,478.61 1244.25,472.13 1232.17,465.50 1219.93,458.72 1207.50,451.77 1194.90,444.65 1182.10,437.36 1169.11,429.87 1155.92,422.18 1142.51,414.28 1128.88,406.16 1115.02,397.80 1100.92,389.20 1086.56,380.32 1071.94,371.17 1057.04,361.72 1041.85,351.95 1026.36,341.83 1010.54,331.34 994.38,320.46 977.86,309.16 960.96,297.39 943.66,285.12 925.92,272.30 907.73,258.89 889.04,244.83 869.83,230.04 850.05,214.45 829.67,197.97 808.61,180.50 786.84,161.89 764.28,142.00 740.85,120.64 716.46,97.56 691.01,72.48 664.36,45.00" class="dry"/>
<polyline points="1822.15,708.81 1814.70,705.91 1807.21,702.99 1799.67,700.03 1792.08,697.04 1784.43,694.02 1776.74,690.97 1769.00,687.89 1761.20,684.77 1753.35,681.62 1745.44,678.44 1737.48,675.22 1729.46,671.96 1721.39,668.66 1713.25,665.33 1705.06,661.96 1696.80,658.55 1688.49,655.10 1680.11,651.60 1671.67,648.06 1663.16,644.48 1654.58,640.86 1645.93,637.18 1637.22,633.46 1628.44,629.69 1619.58,625.88 1610.65,622.01 1601.64,618.08 1592.55,614.11 1583.39,610.08 1574.15,605.99 1564.82,601.84 1555.41,597.63 1545.91,593.36 1536.33,589.02 1526.65,584.62 1516.88,580.15 1507.02,575.61 1497.06,571.00 1487.00,566.31 1476.84,561.55 1466.57,556.70 1456.19,551.77 1445.71,546.76 1435.11,541.66 1424.39,536.46 1413.56,531.17 1402.60,525.78 1391.51,520.29 1380.29,514.69 1368.94,508.98 1357.45,503.16 1345.81,497.22 1334.03,491.15 1322.09,484.95 1310.00,478.61 1297.74,472.13 1285.31,465.50 1272.71,458.72 1259.92,451.77 1246.95,444.65 1233.78,437.36 1220.41,429.87 1206.83,422.18 1193.02,414.28 1178.99,406.16 1164.71,397.80 1150.19,389.20 1135.40,380.32 1120.34,371.17 1104.99,361.72 1089.34,351.95 1073.37,341.83 1057.06,331.34 1040.41,320.46 1023.38,309.16 1005.95,297.39 988.10,285.12 969.80,272.30 951.03,258.89 931.75,244.83 911.91,230.04 891.49,214.45 870.43,197.97 848.68,180.50 826.17,161.89 802.84,142.00 778.61,120.64 753.37,97.56 727.01,72.48 699.39,45.00" class="dry"/>
<polyline points="1889.78,708.81 1882.14,705.91 1874.45,702.99 1866.71,700.03 1858.92,697.04 1851.08,694.02 1843.19,690.97 1835.24,687.89 1827.24,684.77 1819.18,681.62 1811.07,678.44 1802.90,675.22 1794.67,671.96 1786.38,668.66 1778.03,665.33 1769.62,661.96 1761.15,658.55 1752.61,655.10 1744.01,651.60 1735.34,648.06 1726.61,644.48 1717.80,640.86 1708.93,637.18 1699.98,633.46 1690.97,629.69 1681.87,625.88 1672.70,622.01 1663.45,618.08 1654.13,614.11 1644.72,610.08 1635.22,605.99 1625.65,601.84 1615.98,597.63 1606.23,593.36 1596.39,589.02 1586.45,584.62 1576.42,580.15 1566.29,575.61 1556.06,571.00 1545.72,566.31 1535.28,561.55 1524.73,556.70 1514.08,551.77 1503.30,546.76 1492.41,541.66 1481.40,536.46 1470.27,531.17 1459.01,525.78 1447.61,520.29 1436.09,514.69 1424.42,508.98 1412.61,503.16 1400.65,497.22 1388.54,491.15 1376.27,484.95 1363.83,478.61 1351.23,472.13 1338.45,465.50 1325.49,458.72 1312.35,451.77 1299.00,444.65 1285.46,437.36 1271.71,429.87 1257.73,422.18 1243.53,414.28 1229.09,406.16 1214.40,397.80 1199.46,389.20 1184.24,380.32 1168.74,371.17 1152.94,361.72 1136.82,351.95 1120.38,341.83 1103.59,331.34 1086.43,320.46 1068.89,309.16 1050.93,297.39 1032.54,285.12 1013.68,272.30 994.33,258.89 974.45,244.83 953.99,230.04 932.93,214.45 911.19,197.97 888.74,180.50 865.50,161.89 841.41,142.00 816.36,120.64 790.27,97.56 763.01,72.48 734.42,45.00" class="dry"/>
<polyline points="1957.41,708.81 1949.58,705.91 1941.69,702.99 1933.76,700.03 1925.77,697.04 1917.73,694.02 1909.63,690.97 1901.48,687.89 1893.27,684.77 1885.01,681.62 1876.69,678.44 1868.31,675.22 1859.87,671.96 1851.37,668.66 1842.81,665.33 1834.18,661.96 1825.49,658.55 1816.74,655.10 1807.91,651.60 1799.02,648.06 1790.06,644.48 1781.03,640.86 1771.93,637.18 1762.75,633.46 1753.50,629.69 1744.17,625.88 1734.76,622.01 1725.27,618.08 1715.70,614.11 1706.04,610.08 1696.30,605.99 1686.48,601.84 1676.56,597.63 1666.55,593.36 1656.45,589.02 1646.25,584.62 1635.95,580.15 1625.55,575.61 1615.05,571.00 1604.44,566.31 1593.73,561.55 1582.90,556.70 1571.96,551.77 1560.90,546.76 1549.72,541.66 1538.41,536.46 1526.98,531.17 1515.42,525.78 1503.72,520.29 1491.88,514.69 1479.90,508.98 1467.77,503.16 1455.49,497.22 1443.04,491.15 1430.44,484.95 1417.67,478.61 1404.72,472.13 1391.59,465.50 1378.28,458.72 1364.77,451.77 1351.06,444.65 1337.14,437.36 1323.00,429.87 1308.64,422.18 1294.04,414.28 1279.20,406.16 1264.09,397.80 1248.73,389.20 1233.08,380.32 1217.13,371.17 1200.88,361.72 1184.31,351.95 1167.39,341.83 1150.11,331.34 1132.46,320.46 1114.40,309.16 1095.92,297.39 1076.98,285.12 1057.56,272.30 1037.63,258.89 1017.15,244.83 996.07,230.04 974.36,214.45 951.96,197.97 928.81,180.50 904.84,161.89 879.97,142.00 854.12,120.64 827.17,97.56 799.00,72.48 769.45,45.00" class="dry"/>
<polyline points="63.77,708.81 61.49,705.91 59.18,702.99 56.87,700.03 54.53,697.04 52.18,694.02 49.82,690.97 47.43,687.89 45.03,684.77 42.62,681.62 40.18,678.44 37.74,675.22 35.27,671.96 32.79,668.66 30.29,665.33 27.77,661.96 25.24,658.55 22.69,655.10 20.12,651.60 17.54,648.06 14.94,644.48 12.32,640.86 9.69,637.18 7.04,633.46 4.37,629.69 1.68,625.88 -1.02,622.01 -3.74,618.08 -6.48,614.11 -9.24,610.08 -12.01,605.99 -14.81,601.84 -17.62,597.63 -20.45,593.36 -23.29,589.02 -26.16,584.62 -29.05,580.15 -31.95,575.61 -34.88,571.00 -37.82,566.31 -40.78,561.55 -43.76,556.70 -46.77,551.77 -49.79,546.76 -52.83,541.66 -55.90,536.46 -58.98,531.17 -62.09,525.78 -65.21,520.29 -68.36,514.69 -71.53,508.98 -74.72,503.16 -77.93,497.22 -81.17,491.15 -84.43,484.95 -87.71,478.61 -91.01,472.13 -94.34,465.50 -97.69,458.72 -101.06,451.77 -104.46,444.65 -107.88,437.36 -111.32,429.87 -114.79,422.18 -118.28,414.28 -121.79,406.16 -125.33,397.80 -128.89,389.20 -132.47,380.32 -136.07,371.17 -139.69,361.72" class="moist"/>
<polyline points="97.59,708.81 95.27,705.91 92.94,702.99 90.58,700.03 88.21,697.04 85.82,694.02 83.40,690.97 80.97,687.89 78.52,684.77 76.05,681.62 73.56,678.44 71.05,675.22 68.52,671.96 65.97,668.66 63.41,665.33 60.82,661.96 58.21,658.55 55.58,655.10 52.94,651.60 50.27,648.06 47.59,644.48 44.88,640.86 42.15,637.18 39.41,633.46 36.64,629.69 33.86,625.88 31.05,622.01 28.23,618.08 25.38,614.11 22.52,610.08 19.63,605.99 16.72,601.84 13.79,597.63 10.85,593.36 7.88,589.02 4.89,584.62 1.87,580.15 -1.16,575.61 -4.22,571.00 -7.29,566.31 -10.39,561.55 -13.51,556.70 -16.66,551.77 -19.82,546.76 -23.01,541.66 -26.22,536.46 -29.46,531.17 -32.71,525.78 -36.00,520.29 -39.30,514.69 -42.63,508.98 -45.99,503.16 -49.37,497.22 -52.77,491.15 -56.20,484.95 -59.66,478.61 -63.14,472.13 -66.65,465.50 -70.18,458.72 -73.74,451.77 -77.33,444.65 -80.95,437.36 -84.59,429.87 -88.26,422.18 -91.95,414.28 -95.68,406.16 -99.43,397.80 -103.21,389.20 -107.01,380.32 -110.84,371.17 -114.70,361.72" class="moist"/>
<polyline points="131.40,708.81 129.08,705.91 126.75,702.99 124.38,700.03 122.00,697.04 119.59,694.02 117.16,690.97 114.71,687.89 112.23,684.77 109.73,681.62 107.21,678.44 104.66,675.22 102.09,671.96 99.50,668.66 96.88,665.33 94.24,661.96 91.58,658.55 88.89,655.10 86.18,651.60 83.45,648.06 80.70,644.48 77.92,640.86 75.12,637.18 72.29,633.46 69.44,629.69 66.57,625.88 63.67,622.01 60.76,618.08 57.81,614.11 54.85,610.08 51.86,605.99 48.84,601.84 45.81,597.63 42.75,593.36 39.66,589.02 36.55,584.62 33.42,580.15 30.26,575.61 27.08,571.00 23.87,566.31 20.64,561.55 17.38,556.70 14.10,551.77 10.79,546.76 7.46,541.66 4.10,536.46 0.71,531.17 -2.70,525.78 -6.14,520.29 -9.60,514.69 -13.10,508.98 -16.62,503.16 -20.17,497.22 -23.74,491.15 -27.35,484.95 -30.98,478.61 -34.64,472.13 -38.33,465.50 -42.06,458.72 -45.81,451.77 -49.59,444.65 -53.40,437.36 -57.25,429.87 -61.12,422.18 -65.03,414.28 -68.97,406.16 -72.94,397.80 -76.94,389.20 -80.98,380.32 -85.05,371.17 -89.14,361.72" class="moist"/>
<polyline points="165.22,708.81 162.94,705.91 160.63,702.99 158.30,700.03 155.94,697.04 153.55,694.02 151.14,690.97 148.70,687.89 146.23,684.77 143.73,681.62 141.21,678.44 138.66,675.22 136.08,671.96 133.47,668.66 130.84,665.33 128.17,661.96 125.48,658.55 122.77,655.10 120.02,651.60 117.25,648.06 114.45,644.48 111.62,640.86 108.76,637.18 105.88,633.46 102.97,629.69 100.03,625.88 97.06,622.01 94.07,618.08 91.04,614.11 87.99,610.08 84.91,605.99 81.81,601.84 78.67,597.63 75.51,593.36 72.32,589.02 69.10,584.62 65.86,580.15 62.58,575.61 59.28,571.00 55.95,566.31 52.59,561.55 49.20,556.70 45.78,551.77 42.33,546.76 38.86,541.66 35.35,536.46 31.82,531.17 28.25,525.78 24.66,520.29 21.03,514.69 17.38,508.98 13.69,503.16 9.97,497.22 6.22,491.15 2.44,484.95 -1.38,478.61 -5.22,472.13 -9.10,465.50 -13.02,458.72 -16.97,451.77 -20.95,444.65 -24.97,437.36 -29.02,429.87 -33.11,422.18 -37.23,414.28 -41.39,406.16 -45.59,397.80 -49.82,389.20 -54.09,380.32 -58.40,371.17 -62.75,361.72" class="moist"/>
<polyline points="199.03,708.81 196.83,705.91 194.61,702.99 192.35,700.03 190.06,697.04 187.74,694.02 185.39,690.97 183.00,687.89 180.59,684.77 178.14,681.62 175.66,678.44 173.14,675.22 170.60,671.96 168.02,668.66 165.41,665.33 162.76,661.96 160.09,658.55 157.37,655.10 154.63,651.60 151.85,648.06 149.04,644.48 146.20,640.86 143.32,637.18 140.41,633.46 137.47,629.69 134.49,625.88 131.48,622.01 128.44,618.08 125.36,614.11 122.25,610.08 119.11,605.99 115.93,601.84 112.72,597.63 109.47,593.36 106.20,589.02 102.89,584.62 99.54,580.15 96.17,575.61 92.75,571.00 89.31,566.31 85.83,561.55 82.32,556.70 78.78,551.77 75.20,546.76 71.59,541.66 67.94,536.46 64.26,531.17 60.54,525.78 56.79,520.29 53.01,514.69 49.19,508.98 45.33,503.16 41.44,497.22 37.52,491.15 33.55,484.95 29.55,478.61 25.52,472.13 21.44,465.50 17.33,458.72 13.18,451.77 8.99,444.65 4.76,437.36 0.49,429.87 -3.81,422.18 -8.16,414.28 -12.55,406.16 -16.99,397.80 -21.46,389.20 -25.98,380.32 -30.54,371.17 -35.15,361.72" class="moist"/>
<polyline points="232.85,708.81 230.78,705.91 228.68,702.99 226.55,700.03 224.38,697.04 222.18,694.02 219.94,690.97 217.67,687.89 215.36,684.77 213.01,681.62 210.63,678.44 208.21,675.22 205.75,671.96 203.25,668.66 200.72,665.33 198.14,661.96 195.53,658.55 192.88,655.10 190.19,651.60 187.46,648.06 184.69,644.48 181.88,640.86 179.03,637.18 176.14,633.46 173.22,629.69 170.25,625.88 167.24,622.01 164.19,618.08 161.09,614.11 157.96,610.08 154.79,605.99 151.58,601.84 148.33,597.63 145.03,593.36 141.70,589.02 138.32,584.62 134.91,580.15 131.46,575.61 127.96,571.00 124.43,566.31 120.85,561.55 117.23,556.70 113.58,551.77 109.88,546.76 106.14,541.66 102.37,536.46 98.55,531.17 94.69,525.78 90.79,520.29 86.85,514.69 82.87,508.98 78.85,503.16 74.79,497.22 70.69,491.15 66.54,484.95 62.35,478.61 58.12,472.13 53.85,465.50 49.53,458.72 45.17,451.77 40.77,444.65 36.32,437.36 31.83,429.87 27.29,422.18 22.70,414.28 18.07,406.16 13.39,397.80 8.66,389.20 3.88,380.32 -0.95,371.17 -5.83,361.72" class="moist"/>
<polyline points="266.66,708.81 264.78,705.91 262.86,702.99 260.90,700.03 258.91,697.04 256.88,694.02 254.81,690.97 252.71,687.89 250.56,684.77 248.38,681.62 246.15,678.44 243.89,675.22 241.58,671.96 239.23,668.66 236.84,665.33 234.40,661.96 231.93,658.55 229.40,655.10 226.83,651.60 224.22,648.06 221.56,644.48 218.85,640.86 216.09,637.18 213.29,633.46 210.44,629.69 207.55,625.88 204.60,622.01 201.61,618.08 198.57,614.11 195.47,610.08 192.33,605.99 189.14,601.84 185.90,597.63 182.61,593.36 179.27,589.02 175.89,584.62 172.45,580.15 168.96,575.61 165.42,571.00 161.83,566.31 158.20,561.55 154.51,556.70 150.78,551.77 146.99,546.76 143.16,541.66 139.27,536.46 135.34,531.17 131.36,525.78 127.33,520.29 123.25,514.69 119.12,508.98 114.94,503.16 110.71,497.22 106.44,491.15 102.11,484.95 97.74,478.61 93.31,472.13 88.84,465.50 84.31,458.72 79.74,451.77 75.11,444.65 70.43,437.36 65.70,429.87 60.91,422.18 56.08,414.28 51.18,406.16 46.24,397.80 41.24,389.20 36.18,380.32 31.06,371.17 25.89,361.72" class="moist"/>
<polyline points="300.48,708.81 298.81,705.91 297.12,702.99 295.39,700.03 293.62,697.04 291.82,694.02 289.97,690.97 288.09,687.89 286.17,684.77 284.21,681.62 282.21,678.44 280.16,675.22 278.08,671.96 275.94,668.66 273.76,665.33 271.54,661.96 269.27,658.55 266.95,655.10 264.58,651.60 262.16,648.06 259.69,644.48 257.17,640.86 254.60,637.18 251.97,633.46 249.29,629.69 246.55,625.88 243.76,622.01 240.91,618.08 238.00,614.11 235.04,610.08 232.01,605.99 228.93,601.84 225.79,597.63 222.59,593.36 219.32,589.02 216.00,584.62 212.62,580.15 209.17,575.61 205.66,571.00 202.10,566.31 198.46,561.55 194.77,556.70 191.02,551.77 187.20,546.76 183.32,541.66 179.38,536.46 175.38,531.17 171.32,525.78 167.19,520.29 163.01,514.69 158.76,508.98 154.45,503.16 150.08,497.22 145.65,491.15 141.16,484.95 136.61,478.61 132.00,472.13 127.32,465.50 122.59,458.72 117.80,451.77 112.94,444.65 108.03,437.36 103.05,429.87 98.01,422.18 92.90,414.28 87.74,406.16 82.51,397.80 77.21,389.20 71.85,380.32 66.42,371.17 60.93,361.72" class="moist"/>
<polyline points="334.29,708.81 332.88,705.91 331.44,702.99 329.97,700.03 328.47,697.04 326.93,694.02 325.35,690.97 323.74,687.89 322.09,684.77 320.41,681.62 318.68,678.44 316.91,675.22 315.11,671.96 313.25,668.66 311.36,665.33 309.41,661.96 307.42,658.55 305.39,655.10 303.30,651.60 301.16,648.06 298.97,644.48 296.73,640.86 294.43,637.18 292.07,633.46 289.66,629.69 287.18,625.88 284.65,622.01 282.05,618.08 279.39,614.11 276.67,610.08 273.88,605.99 271.02,601.84 268.10,597.63 265.10,593.36 262.04,589.02 258.90,584.62 255.69,580.15 252.40,575.61 249.05,571.00 245.61,566.31 242.10,561.55 238.51,556.70 234.85,551.77 231.10,546.76 227.28,541.66 223.38,536.46 219.40,531.17 215.34,525.78 211.20,520.29 206.99,514.69 202.69,508.98 198.32,503.16 193.87,497.22 189.34,491.15 184.73,484.95 180.04,478.61 175.28,472.13 170.44,465.50 165.52,458.72 160.53,451.77 155.46,444.65 150.31,437.36 145.09,429.87 139.79,422.18 134.41,414.28 128.96,406.16 123.42,397.80 117.82,389.20 112.13,380.32 106.36,371.17 100.52,361.72" class="moist"/>
<polyline points="368.11,708.81 366.97,705.91 365.80,702.99 364.61,700.03 363.38,697.04 362.13,694.02 360.85,690.97 359.54,687.89 358.19,684.77 356.81,681.62 355.40,678.44 353.95,675.22 352.46,671.96 350.93,668.66 349.37,665.33 347.76,661.96 346.11,658.55 344.42,655.10 342.68,651.60 340.89,648.06 339.05,644.48 337.16,640.86 335.22,637.18 333.23,633.46 331.18,629.69 329.07,625.88 326.91,622.01 324.68,618.08 322.38,614.11 320.02,610.08 317.60,605.99 315.10,601.84 312.53,597.63 309.89,593.36 307.17,589.02 304.37,584.62 301.49,580.15 298.53,575.61 295.48,571.00 292.34,566.31 289.12,561.55 285.81,556.70 282.40,551.77 278.90,546.76 275.31,541.66 271.62,536.46 267.83,531.17 263.94,525.78 259.94,520.29 255.85,514.69 251.66,508.98 247.36,503.16 242.96,497.22 238.45,491.15 233.84,484.95 229.13,478.61 224.31,472.13 219.39,465.50 214.37,458.72 209.25,451.77 204.02,444.65 198.69,437.36 193.26,429.87 187.73,422.18 182.10,414.28 176.38,406.16 170.55,397.80 164.62,389.20 158.60,380.32 152.47,371.17 146.25,361.72" class="moist"/>
<polyline points="401.92,708.81 401.05,705.91 400.15,702.99 399.24,700.03 398.30,697.04 397.34,694.02 396.35,690.97 395.34,687.89 394.31,684.77 393.24,681.62 392.15,678.44 391.03,675.22 389.88,671.96 388.70,668.66 387.49,665.33 386.24,661.96 384.96,658.55 383.64,655.10 382.28,651.60 380.88,648.06 379.44,644.48 377.96,640.86 376.43,637.18 374.86,633.46 373.24,629.69 371.57,625.88 369.84,622.01 368.06,618.08 366.23,614.11 364.33,610.08 362.37,605.99 360.35,601.84 358.26,597.63 356.10,593.36 353.87,589.02 351.56,584.62 349.18,580.15 346.71,575.61 344.16,571.00 341.51,566.31 338.78,561.55 335.95,556.70 333.02,551.77 329.99,546.76 326.86,541.66 323.62,536.46 320.26,531.17 316.79,525.78 313.20,520.29 309.48,514.69 305.64,508.98 301.68,503.16 297.58,497.22 293.35,491.15 288.98,484.95 284.48,478.61 279.84,472.13 275.06,465.50 270.14,458.72 265.07,451.77 259.87,444.65 254.52,437.36 249.03,429.87 243.40,422.18 237.63,414.28 231.72,406.16 225.67,397.80 219.49,389.20 213.17,380.32 206.71,371.17 200.12,361.72" class="moist"/>
<polyline points="435.74,708.81 435.11,705.91 434.48,702.99 433.82,700.03 433.15,697.04 432.47,694.02 431.76,690.97 431.04,687.89 430.30,684.77 429.54,681.62 428.76,678.44 427.96,675.22 427.14,671.96 426.29,668.66 425.42,665.33 424.52,661.96 423.60,658.55 422.65,655.10 421.67,651.60 420.67,648.06 419.63,644.48 418.56,640.86 417.45,637.18 416.31,633.46 415.14,629.69 413.92,625.88 412.67,622.01 411.37,618.08 410.02,614.11 408.63,610.08 407.19,605.99 405.70,601.84 404.16,597.63 402.56,593.36 400.89,589.02 399.17,584.62 397.38,580.15 395.52,575.61 393.59,571.00 391.58,566.31 389.49,561.55 387.32,556.70 385.06,551.77 382.70,546.76 380.25,541.66 377.69,536.46 375.03,531.17 372.25,525.78 369.35,520.29 366.33,514.69 363.17,508.98 359.88,503.16 356.45,497.22 352.87,491.15 349.13,484.95 345.24,478.61 341.17,472.13 336.93,465.50 332.52,458.72 327.92,451.77 323.13,444.65 318.15,437.36 312.97,429.87 307.60,422.18 302.02,414.28 296.24,406.16 290.26,397.80 284.07,389.20 277.68,380.32 271.09,371.17 264.29,361.72" class="moist"/>
<polyline points="469.55,708.81 469.15,705.91 468.75,702.99 468.33,700.03 467.90,697.04 467.46,694.02 467.01,690.97 466.55,687.89 466.07,684.77 465.59,681.62 465.09,678.44 464.57,675.22 464.04,671.96 463.50,668.66 462.94,665.33 462.37,661.96 461.77,658.55 461.16,655.10 460.53,651.60 459.88,648.06 459.21,644.48 458.52,640.86 457.81,637.18 457.07,633.46 456.31,629.69 455.52,625.88 454.70,622.01 453.86,618.08 452.98,614.11 452.08,610.08 451.14,605.99 450.16,601.84 449.15,597.63 448.09,593.36 447.00,589.02 445.86,584.62 444.67,580.15 443.44,575.61 442.15,571.00 440.81,566.31 439.41,561.55 437.94,556.70 436.41,551.77 434.82,546.76 433.14,541.66 431.39,536.46 429.55,531.17 427.63,525.78 425.60,520.29 423.48,514.69 421.25,508.98 418.90,503.16 416.43,497.22 413.83,491.15 411.09,484.95 408.20,478.61 405.15,472.13 401.94,465.50 398.54,458.72 394.96,451.77 391.17,444.65 387.17,437.36 382.94,429.87 378.48,422.18 373.77,414.28 368.79,406.16 363.55,397.80 358.02,389.20 352.20,380.32 346.08,371.17 339.66,361.72" class="moist"/>
<polyline points="503.37,708.81 503.16,705.91 502.95,702.99 502.74,700.03 502.51,697.04 502.29,694.02 502.05,690.97 501.82,687.89 501.57,684.77 501.32,681.62 501.06,678.44 500.79,675.22 500.51,671.96 500.23,668.66 499.94,665.33 499.64,661.96 499.33,658.55 499.00,655.10 498.67,651.60 498.33,648.06 497.98,644.48 497.61,640.86 497.23,637.18 496.84,633.46 496.43,629.69 496.01,625.88 495.57,622.01 495.12,618.08 494.65,614.11 494.16,610.08 493.65,605.99 493.12,601.84 492.57,597.63 491.99,593.36 491.39,589.02 490.77,584.62 490.11,580.15 489.43,575.61 488.72,571.00 487.97,566.31 487.19,561.55 486.37,556.70 485.51,551.77 484.61,546.76 483.66,541.66 482.66,536.46 481.61,531.17 480.50,525.78 479.34,520.29 478.10,514.69 476.80,508.98 475.42,503.16 473.96,497.22 472.42,491.15 470.77,484.95 469.03,478.61 467.17,472.13 465.20,465.50 463.09,458.72 460.84,451.77 458.43,444.65 455.86,437.36 453.11,429.87 450.15,422.18 446.98,414.28 443.58,406.16 439.91,397.80 435.97,389.20 431.73,380.32 427.15,371.17 422.23,361.72" class="moist"/>
<polyline points="537.18,708.81 537.12,705.91 537.05,702.99 536.98,700.03 536.91,697.04 536.84,694.02 536.77,690.97 536.69,687.89 536.61,684.77 536.53,681.62 536.45,678.44 536.36,675.22 536.27,671.96 536.18,668.66 536.08,665.33 535.98,661.96 535.88,658.55 535.77,655.10 535.66,651.60 535.54,648.06 535.42,644.48 535.29,640.86 535.16,637.18 535.02,633.46 534.88,629.69 534.73,625.88 534.57,622.01 534.41,618.08 534.24,614.11 534.06,610.08 533.87,605.99 533.67,601.84 533.46,597.63 533.24,593.36 533.01,589.02 532.77,584.62 532.52,580.15 532.25,575.61 531.96,571.00 531.66,566.31 531.35,561.55 531.01,556.70 530.66,551.77 530.29,546.76 529.89,541.66 529.47,536.46 529.02,531.17 528.55,525.78 528.04,520.29 527.50,514.69 526.93,508.98 526.31,503.16 525.66,497.22 524.96,491.15 524.21,484.95 523.40,478.61 522.54,472.13 521.61,465.50 520.62,458.72 519.54,451.77 518.38,444.65 517.12,437.36 515.76,429.87 514.28,422.18 512.68,414.28 510.93,406.16 509.03,397.80 506.94,389.20 504.66,380.32 502.16,371.17 499.41,361.72" class="moist"/>
<polyline points="571.00,708.81 571.04,705.91 571.09,702.99 571.13,700.03 571.18,697.04 571.23,694.02 571.28,690.97 571.33,687.89 571.38,684.77 571.43,681.62 571.48,678.44 571.53,675.22 571.59,671.96 571.64,668.66 571.69,665.33 571.75,661.96 571.80,658.55 571.85,655.10 571.91,651.60 571.96,648.06 572.02,644.48 572.07,640.86 572.13,637.18 572.18,633.46 572.24,629.69 572.29,625.88 572.34,622.01 572.40,618.08 572.45,614.11 572.50,610.08 572.55,605.99 572.60,601.84 572.64,597.63 572.69,593.36 572.73,589.02 572.77,584.62 572.81,580.15 572.85,575.61 572.88,571.00 572.91,566.31 572.94,561.55 572.96,556.70 572.97,551.77 572.99,546.76 572.99,541.66 572.99,536.46 572.98,531.17 572.96,525.78 572.94,520.29 572.90,514.69 572.85,508.98 572.79,503.16 572.72,497.22 572.63,491.15 572.53,484.95 572.40,478.61 572.26,472.13 572.09,465.50 571.89,458.72 571.67,451.77 571.41,444.65 571.12,437.36 570.79,429.87 570.41,422.18 569.98,414.28 569.50,406.16 568.95,397.80 568.32,389.20 567.61,380.32 566.80,371.17 565.89,361.72" class="moist"/>
<polyline points="604.81,708.81 604.94,705.91 605.07,702.99 605.20,700.03 605.33,697.04 605.47,694.02 605.60,690.97 605.75,687.89 605.89,684.77 606.04,681.62 606.19,678.44 606.34,675.22 606.50,671.96 606.66,668.66 606.82,665.33 606.98,661.96 607.15,658.55 607.32,655.10 607.50,651.60 607.68,648.06 607.86,644.48 608.04,640.86 608.23,637.18 608.42,633.46 608.62,629.69 608.82,625.88 609.02,622.01 609.23,618.08 609.44,614.11 609.66,610.08 609.88,605.99 610.10,601.84 610.33,597.63 610.56,593.36 610.80,589.02 611.04,584.62 611.28,580.15 611.53,575.61 611.78,571.00 612.04,566.31 612.30,561.55 612.57,556.70 612.84,551.77 613.12,546.76 613.40,541.66 613.69,536.46 613.98,531.17 614.27,525.78 614.57,520.29 614.88,514.69 615.18,508.98 615.50,503.16 615.81,497.22 616.13,491.15 616.46,484.95 616.78,478.61 617.11,472.13 617.45,465.50 617.78,458.72 618.12,451.77 618.45,444.65 618.79,437.36 619.13,429.87 619.46,422.18 619.79,414.28 620.11,406.16 620.43,397.80 620.73,389.20 621.02,380.32 621.30,371.17 621.55,361.72" class="moist"/>
<polyline points="213.18,722.88 216.31,715.93 219.52,708.81 222.81,701.51 226.20,694.02 229.68,686.34 233.26,678.44 236.96,670.32 240.76,661.96 244.69,653.35 248.74,644.48 252.93,635.33 257.27,625.88 261.77,616.10 266.43,605.99 271.27,595.50 276.30,584.62 281.55,573.31 287.02,561.55 292.74,549.28 298.73,536.46 305.01,523.05 311.62,508.98 318.58,494.20 325.95,478.61 333.75,462.13 342.06,444.65" class="mr"/>
<polyline points="271.48,722.88 274.46,715.93 277.51,708.81 280.65,701.51 283.87,694.02 287.19,686.34 290.61,678.44 294.13,670.32 297.76,661.96 301.50,653.35 305.37,644.48 309.38,635.33 313.52,625.88 317.81,616.10 322.27,605.99 326.89,595.50 331.71,584.62 336.73,573.31 341.97,561.55 347.44,549.28 353.18,536.46 359.20,523.05 365.53,508.98 372.21,494.20 379.28,478.61 386.78,462.13 394.76,444.65" class="mr"/>
<polyline points="307.70,722.88 310.58,715.93 313.53,708.81 316.57,701.51 319.69,694.02 322.91,686.34 326.21,678.44 329.62,670.32 333.14,661.96 336.77,653.35 340.52,644.48 344.40,635.33 348.42,625.88 352.59,616.10 356.91,605.99 361.40,595.50 366.08,584.62 370.95,573.31 376.04,561.55 381.36,549.28 386.93,536.46 392.79,523.05 398.95,508.98 405.45,494.20 412.32,478.61 419.62,462.13 427.39,444.65" class="mr"/>
<polyline points="334.42,722.88 337.22,715.93 340.10,708.81 343.07,701.51 346.11,694.02 349.25,686.34 352.48,678.44 355.80,670.32 359.24,661.96 362.78,653.35 366.44,644.48 370.23,635.33 374.16,625.88 378.22,616.10 382.45,605.99 386.84,595.50 391.41,584.62 396.17,573.31 401.15,561.55 406.35,549.28 411.81,536.46 417.53,523.05 423.56,508.98 429.93,494.20 436.66,478.61 443.81,462.13 451.43,444.65" class="mr"/>
<polyline points="373.62,722.88 376.31,715.93 379.09,708.81 381.94,701.51 384.87,694.02 387.88,686.34 390.99,678.44 394.19,670.32 397.50,661.96 400.92,653.35 404.45,644.48 408.10,635.33 411.88,625.88 415.81,616.10 419.88,605.99 424.12,595.50 428.54,584.62 433.14,573.31 437.94,561.55 442.97,549.28 448.25,536.46 453.79,523.05 459.63,508.98 465.79,494.20 472.31,478.61 479.24,462.13 486.62,444.65" class="mr"/>
<polyline points="402.59,722.88 405.21,715.93 407.90,708.81 410.66,701.51 413.51,694.02 416.43,686.34 419.45,678.44 422.56,670.32 425.77,661.96 429.09,653.35 432.52,644.48 436.07,635.33 439.75,625.88 443.57,616.10 447.53,605.99 451.66,595.50 455.95,584.62 460.43,573.31 465.11,561.55 470.01,549.28 475.15,536.46 480.55,523.05 486.24,508.98 492.25,494.20 498.61,478.61 505.37,462.13 512.58,444.65" class="mr"/>
<polyline points="425.77,722.88 428.32,715.93 430.95,708.81 433.64,701.51 436.41,694.02 439.27,686.34 442.21,678.44 445.25,670.32 448.38,661.96 451.62,653.35 454.97,644.48 458.44,635.33 462.03,625.88 465.76,616.10 469.64,605.99 473.67,595.50 477.86,584.62 482.25,573.31 486.82,561.55 491.62,549.28 496.65,536.46 501.93,523.05 507.50,508.98 513.39,494.20 519.62,478.61 526.25,462.13 533.31,444.65" class="mr"/>
<polyline points="469.57,722.88 472.00,715.93 474.49,708.81 477.05,701.51 479.69,694.02 482.41,686.34 485.21,678.44 488.10,670.32 491.08,661.96 494.17,653.35 497.36,644.48 500.67,635.33 504.10,625.88 507.66,616.10 511.36,605.99 515.22,595.50 519.23,584.62 523.42,573.31 527.80,561.55 532.39,549.28 537.21,536.46 542.28,523.05 547.62,508.98 553.27,494.20 559.25,478.61 565.62,462.13 572.41,444.65" class="mr"/>
<polyline points="502.05,722.88 504.38,715.93 506.77,708.81 509.23,701.51 511.77,694.02 514.38,686.34 517.08,678.44 519.86,670.32 522.73,661.96 525.70,653.35 528.78,644.48 531.97,635.33 535.27,625.88 538.71,616.10 542.28,605.99 545.99,595.50 549.87,584.62 553.92,573.31 558.15,561.55 562.59,549.28 567.25,536.46 572.15,523.05 577.32,508.98 582.79,494.20 588.59,478.61 594.76,462.13 601.34,444.65" class="mr"/>
<polyline points="528.10,722.88 530.35,715.93 532.66,708.81 535.04,701.51 537.50,694.02 540.02,686.34 542.63,678.44 545.32,670.32 548.11,661.96 550.99,653.35 553.97,644.48 557.05,635.33 560.26,625.88 563.59,616.10 567.05,605.99 570.66,595.50 574.42,584.62 578.35,573.31 582.47,561.55 586.78,549.28 591.31,536.46 596.08,523.05 601.11,508.98 606.43,494.20 612.08,478.61 618.09,462.13 624.51,444.65" class="mr"/>
<polyline points="549.97,722.88 552.16,715.93 554.40,708.81 556.71,701.51 559.09,694.02 561.55,686.34 564.08,678.44 566.70,670.32 569.40,661.96 572.20,653.35 575.10,644.48 578.11,635.33 581.23,625.88 584.47,616.10 587.84,605.99 591.36,595.50 595.02,584.62 598.86,573.31 602.87,561.55 607.07,549.28 611.49,536.46 616.15,523.05 621.06,508.98 626.26,494.20 631.78,478.61 637.66,462.13 643.94,444.65" class="mr"/>
<polyline points="568.90,722.88 571.02,715.93 573.21,708.81 575.46,701.51 577.78,694.02 580.17,686.34 582.64,678.44 585.19,670.32 587.83,661.96 590.56,653.35 593.38,644.48 596.32,635.33 599.36,625.88 602.53,616.10 605.82,605.99 609.26,595.50 612.84,584.62 616.58,573.31 620.51,561.55 624.62,549.28 628.95,536.46 633.50,523.05 638.31,508.98 643.40,494.20 648.81,478.61 654.57,462.13 660.73,444.65" class="mr"/>
<polyline points="585.62,722.88 587.69,715.93 589.83,708.81 592.02,701.51 594.29,694.02 596.62,686.34 599.04,678.44 601.53,670.32 604.10,661.96 606.77,653.35 609.54,644.48 612.41,635.33 615.39,625.88 618.48,616.10 621.71,605.99 625.07,595.50 628.58,584.62 632.24,573.31 636.09,561.55 640.12,549.28 644.36,536.46 648.83,523.05 653.55,508.98 658.54,494.20 663.85,478.61 669.51,462.13 675.55,444.65" class="mr"/>
<line x1="323.93" y1="723.00" x2="819.21" y2="45.00" class="iso0"/>
</g>
<line x1="60" y1="45.00" x2="605" y2="45.00" class="pl"/>
<line x1="60" y1="244.83" x2="605" y2="244.83" class="pl"/>
<line x1="60" y1="361.72" x2="605" y2="361.72" class="pl"/>
<line x1="60" y1="444.65" x2="605" y2="444.65" class="pl"/>
<line x1="60" y1="508.98" x2="605" y2="508.98" class="pl"/>
<line x1="60" y1="561.55" x2="605" y2="561.55" class="pl"/>
<line x1="60" y1="605.99" x2="605" y2="605.99" class="pl"/>
<line x1="60" y1="644.48" x2="605" y2="644.48" class="pl"/>
<line x1="60" y1="678.44" x2="605" y2="678.44" class="pl"/>
<line x1="60" y1="708.81" x2="605" y2="708.81" class="pl"/>
<rect x="65" y="45" width="540" height="678" class="box"/>
<g clip-path="url(#box)">
<polyline points="428.50,44.50 389.60,106.50 376.90,143.10 369.00,163.70 346.00,190.40 322.50,217.00 277.30,242.00 239.40,269.70 239.40,296.30 248.10,322.80 262.20,350.90 266.90,365.00 276.30,399.40 289.40,427.50 287.20,451.00 298.10,480.00 307.50,504.00 322.70,538.00 329.50,578.60 327.70,604.40 319.20,615.40 301.40,625.50 299.80,639.10 293.80,651.70 295.50,662.70 293.80,684.70 290.50,692.40 280.30,696.20 288.80,709.30" class="temp"/>
<polyline points="180.00,216.10 164.30,244.30 135.60,296.10 178.20,351.00 137.60,427.90 190.40,451.40 162.20,473.70 151.50,492.80 168.30,510.10 169.20,528.30 182.90,547.50 210.20,560.20 244.90,577.50 228.40,591.20 200.10,603.20 81.40,615.50 182.50,626.00 186.00,635.70 152.60,644.50 222.00,651.50 206.20,663.80 219.40,670.90 242.30,684.90 222.90,692.80 238.70,697.20 244.00,704.30 246.70,709.50" class="dewp"/>
</g>
<text x="127.74" y="16.10" font-size="19.30" textLength="139.42" lengthAdjust="spacingAndGlyphs" stroke="#fff" stroke-width="0.45">2026030200</text>
<text x="280.14" y="16.10" font-size="19.30" textLength="44.22" lengthAdjust="spacingAndGlyphs" stroke="#fff" stroke-width="0.45">NAM</text>
<text x="336.74" y="16.10" font-size="19.30" textLength="56.12" lengthAdjust="spacingAndGlyphs" stroke="#fff" stroke-width="0.45">BUFR</text>
<text x="406.74" y="16.10" font-size="19.30" textLength="98.62" lengthAdjust="spacingAndGlyphs" stroke="#fff" stroke-width="0.45">Sounding</text>
<text x="518.04" y="16.10" font-size="19.30" textLength="31.22" lengthAdjust="spacingAndGlyphs" stroke="#fff" stroke-width="0.45">for</text>
<text x="561.64" y="16.10" font-size="19.30" textLength="54.12" lengthAdjust="spacingAndGlyphs" stroke="#fff" stroke-width="0.45">SPAR</text>
<text x="163.54" y="38.30" font-size="19.30" textLength="26.62" lengthAdjust="spacingAndGlyphs" stroke="#fff" stroke-width="0.45">6h</text>
<text x="202.84" y="38.30" font-size="19.30" textLength="89.82" lengthAdjust="spacingAndGlyphs" stroke="#fff" stroke-width="0.45">forecast</text>
<text x="304.94" y="38.30" font-size="19.30" textLength="49.62" lengthAdjust="spacingAndGlyphs" stroke="#fff" stroke-width="0.45">valid</text>
<text x="361.84" y="38.30" font-size="19.30" textLength="144.22" lengthAdjust="spacingAndGlyphs" stroke="#fff" stroke-width="0.45">2026030206</text>
<text x="519.24" y="38.30" font-size="19.30" textLength="61.42" lengthAdjust="spacingAndGlyphs" stroke="#fff" stroke-width="0.45">(Mon)</text>
<text x="29.09" y="50.90" font-size="16.80" textLength="27.22" lengthAdjust="spacingAndGlyphs">100</text>
<text x="27.69" y="250.73" font-size="16.80" textLength="28.62" lengthAdjust="spacingAndGlyphs">200</text>
<text x="27.69" y="367.62" font-size="16.80" textLength="28.62" lengthAdjust="spacingAndGlyphs">300</text>
<text x="27.69" y="450.55" font-size="16.80" textLength="28.62" lengthAdjust="spacingAndGlyphs">400</text>
<text x="27.69" y="514.88" font-size="16.80" textLength="28.62" lengthAdjust="spacingAndGlyphs">500</text>
<text x="27.69" y="567.45" font-size="16.80" textLength="28.62" lengthAdjust="spacingAndGlyphs">600</text>
<text x="27.69" y="611.89" font-size="16.80" textLength="28.62" lengthAdjust="spacingAndGlyphs">700</text>
<text x="27.69" y="650.38" font-size="16.80" textLength="28.62" lengthAdjust="spacingAndGlyphs">800</text>
<text x="27.69" y="684.34" font-size="16.80" textLength="28.62" lengthAdjust="spacingAndGlyphs">900</text>
<text x="19.59" y="714.71" font-size="16.80" textLength="36.72" lengthAdjust="spacingAndGlyphs">1000</text>
<g transform="translate(19.60 0) rotate(-90)">
<text x="-448.71" y="0.00" font-size="16.80" textLength="75.22" lengthAdjust="spacingAndGlyphs" stroke="#000" stroke-width="0.7">Pressure</text>
<text x="-362.81" y="0.00" font-size="16.80" textLength="43.62" lengthAdjust="spacingAndGlyphs" stroke="#000" stroke-width="0.7">(mb)</text>
</g>
<text x="118.20" y="743.60" font-size="19.50" textLength="45.30" lengthAdjust="spacingAndGlyphs" text-anchor="middle" fill="#3a50ff" stroke="#fff" stroke-width="0.45">−30</text>
<text x="185.80" y="743.60" font-size="19.50" textLength="45.30" lengthAdjust="spacingAndGlyphs" text-anchor="middle" fill="#3a50ff" stroke="#fff" stroke-width="0.45">−20</text>
<text x="253.40" y="743.60" font-size="19.50" textLength="45.30" lengthAdjust="spacingAndGlyphs" text-anchor="middle" fill="#3a50ff" stroke="#fff" stroke-width="0.45">−10</text>
<text x="321.00" y="743.60" font-size="19.50" textLength="12.60" lengthAdjust="spacingAndGlyphs" text-anchor="middle" fill="#3a50ff" stroke="#fff" stroke-width="0.45">0</text>
<text x="388.60" y="743.60" font-size="19.50" textLength="28.40" lengthAdjust="spacingAndGlyphs" text-anchor="middle" fill="#3a50ff" stroke="#fff" stroke-width="0.45">10</text>
<text x="456.20" y="743.60" font-size="19.50" textLength="28.40" lengthAdjust="spacingAndGlyphs" text-anchor="middle" fill="#3a50ff" stroke="#fff" stroke-width="0.45">20</text>
<text x="523.80" y="743.60" font-size="19.50" textLength="28.40" lengthAdjust="spacingAndGlyphs" text-anchor="middle" fill="#3a50ff" stroke="#fff" stroke-width="0.45">30</text>
<text x="591.40" y="743.60" font-size="19.50" textLength="28.40" lengthAdjust="spacingAndGlyphs" text-anchor="middle" fill="#3a50ff" stroke="#fff" stroke-width="0.45">40</text>
<text x="245.20" y="759.70" font-size="16.60" textLength="113.59" lengthAdjust="spacingAndGlyphs" fill="#2f4ff5" stroke="#2f4ff5" stroke-width="0.7">Temperature</text>
<text x="370.00" y="759.70" font-size="16.60" textLength="36.19" lengthAdjust="spacingAndGlyphs" fill="#2f4ff5" stroke="#2f4ff5" stroke-width="0.7">(°C)</text>
<text x="0.00" y="0.00" font-size="16.00" textLength="160.31" lengthAdjust="spacing" fill="#ff4040" transform="translate(555.67 760.50) scale(1.180 1)">coolwx.com/modelts</text>
<text x="343.50" y="439.50" font-size="11.80" textLength="6.20" lengthAdjust="spacingAndGlyphs" text-anchor="middle" fill="#a01ee0">1</text>
<text x="397.50" y="439.50" font-size="11.80" textLength="6.20" lengthAdjust="spacingAndGlyphs" text-anchor="middle" fill="#a01ee0">2</text>
<text x="430.00" y="439.50" font-size="11.80" textLength="6.20" lengthAdjust="spacingAndGlyphs" text-anchor="middle" fill="#a01ee0">3</text>
<text x="453.70" y="439.50" font-size="11.80" textLength="6.20" lengthAdjust="spacingAndGlyphs" text-anchor="middle" fill="#a01ee0">4</text>
<text x="489.80" y="439.50" font-size="11.80" textLength="6.20" lengthAdjust="spacingAndGlyphs" text-anchor="middle" fill="#a01ee0">6</text>
<text x="515.50" y="439.50" font-size="11.80" textLength="6.20" lengthAdjust="spacingAndGlyphs" text-anchor="middle" fill="#a01ee0">8</text>
<text x="541.00" y="439.50" font-size="11.80" textLength="14.50" lengthAdjust="spacingAndGlyphs" text-anchor="middle" fill="#a01ee0">10</text>
<text x="580.00" y="439.50" font-size="11.80" textLength="14.50" lengthAdjust="spacingAndGlyphs" text-anchor="middle" fill="#a01ee0">15</text>
<text x="608.50" y="439.50" font-size="11.80" textLength="14.50" lengthAdjust="spacingAndGlyphs" text-anchor="middle" fill="#a01ee0">20</text>
<text x="612.40" y="501.80" font-size="12.50" textLength="16.10" lengthAdjust="spacingAndGlyphs" fill="#a01ee0">25</text>
<text x="612.40" y="561.70" font-size="12.50" textLength="16.10" lengthAdjust="spacingAndGlyphs" fill="#a01ee0">30</text>
<text x="612.40" y="616.20" font-size="12.50" textLength="16.10" lengthAdjust="spacingAndGlyphs" fill="#a01ee0">35</text>
<text x="612.40" y="666.20" font-size="12.50" textLength="16.10" lengthAdjust="spacingAndGlyphs" fill="#a01ee0">40</text>
<g transform="translate(648.90 0) rotate(-90)">
<text x="-586.02" y="0.00" font-size="18.60" textLength="54.33" lengthAdjust="spacingAndGlyphs" fill="#9600d2" stroke="#9600d2" stroke-width="0.4">Mixing</text>
<text x="-523.52" y="0.00" font-size="18.60" textLength="46.53" lengthAdjust="spacingAndGlyphs" fill="#9600d2" stroke="#9600d2" stroke-width="0.4">Ratio</text>
<text x="-470.12" y="0.00" font-size="18.60" textLength="62.13" lengthAdjust="spacingAndGlyphs" fill="#9600d2" stroke="#9600d2" stroke-width="0.4">(g/kg)</text>
</g>
<line x1="698.4" y1="44.5" x2="698.4" y2="722.6" stroke="#505050" stroke-width="1.6"/>
<g stroke="#ffff00" fill="#ffff00" stroke-width="1.7"><line x1="698.40" y1="75.60" x2="663.11" y2="76.40"/><polygon points="663.11,76.40 664.88,66.16 668.01,76.29" stroke="none"/><line x1="671.91" y1="76.20" x2="671.66" y2="65.20"/><rect x="696.80" y="74.00" width="3.2" height="3.2" stroke="none"/></g>
<g stroke="#fff200" fill="#fff200" stroke-width="1.7"><line x1="698.40" y1="107.00" x2="663.10" y2="107.50"/><polygon points="663.10,107.50 664.96,97.27 668.00,107.43" stroke="none"/><line x1="671.90" y1="107.38" x2="671.75" y2="96.38"/><line x1="676.65" y1="107.31" x2="676.57" y2="101.31"/><rect x="696.80" y="105.40" width="3.2" height="3.2" stroke="none"/></g>
<g stroke="#ffcd00" fill="#ffcd00" stroke-width="1.7"><line x1="698.40" y1="136.50" x2="663.10" y2="136.80"/><polygon points="663.10,136.80 665.01,126.58 668.00,136.76" stroke="none"/><line x1="671.90" y1="136.73" x2="671.81" y2="125.73"/><line x1="676.65" y1="136.68" x2="676.56" y2="125.69"/><rect x="696.80" y="134.90" width="3.2" height="3.2" stroke="none"/></g>
<g stroke="#ffac00" fill="#ffac00" stroke-width="1.7"><line x1="698.40" y1="163.75" x2="663.11" y2="164.50"/><polygon points="663.11,164.50 664.89,154.26 668.01,164.40" stroke="none"/><line x1="671.91" y1="164.31" x2="671.67" y2="153.32"/><line x1="676.65" y1="164.21" x2="676.42" y2="153.21"/><line x1="681.40" y1="164.11" x2="681.28" y2="158.11"/><rect x="696.80" y="162.15" width="3.2" height="3.2" stroke="none"/></g>
<g stroke="#ff9600" fill="#ff9600" stroke-width="1.7"><line x1="698.40" y1="190.60" x2="663.16" y2="192.70"/><polygon points="663.16,192.70 664.55,182.40 668.05,192.41" stroke="none"/><line x1="671.95" y1="192.17" x2="671.29" y2="181.19"/><line x1="676.69" y1="191.89" x2="676.04" y2="180.91"/><line x1="681.43" y1="191.61" x2="680.78" y2="180.63"/><rect x="696.80" y="189.00" width="3.2" height="3.2" stroke="none"/></g>
<g stroke="#ff8400" fill="#ff8400" stroke-width="1.7"><line x1="698.40" y1="216.70" x2="663.13" y2="218.20"/><polygon points="663.13,218.20 664.70,207.92 668.03,217.99" stroke="none"/><line x1="671.92" y1="217.83" x2="671.46" y2="206.83"/><line x1="676.67" y1="217.62" x2="676.20" y2="206.63"/><line x1="681.42" y1="217.42" x2="680.95" y2="206.43"/><rect x="696.80" y="215.10" width="3.2" height="3.2" stroke="none"/></g>
<g stroke="#ff5c00" fill="#ff5c00" stroke-width="1.7"><line x1="698.40" y1="242.90" x2="663.12" y2="241.70"/><polygon points="663.12,241.70 665.47,231.57 668.02,241.87" stroke="none"/><line x1="671.92" y1="242.00" x2="672.29" y2="231.01"/><line x1="676.66" y1="242.16" x2="677.04" y2="231.17"/><line x1="681.41" y1="242.32" x2="681.78" y2="231.33"/><line x1="686.16" y1="242.48" x2="686.53" y2="231.49"/><rect x="696.80" y="241.30" width="3.2" height="3.2" stroke="none"/></g>
<g stroke="#ff0a00" fill="#ff0a00" stroke-width="1.7"><line x1="698.40" y1="269.80" x2="663.12" y2="268.50"/><polygon points="663.12,268.50 665.50,258.38 668.02,268.68" stroke="none"/><polygon points="670.12,268.76 672.49,258.64 675.02,268.94" stroke="none"/><line x1="678.91" y1="269.08" x2="679.13" y2="263.09"/><rect x="696.80" y="268.20" width="3.2" height="3.2" stroke="none"/></g>
<g stroke="#ff003c" fill="#ff003c" stroke-width="1.7"><line x1="698.40" y1="296.90" x2="663.11" y2="296.00"/><polygon points="663.11,296.00 665.37,285.85 668.01,296.13" stroke="none"/><polygon points="670.11,296.18 672.37,286.03 675.01,296.30" stroke="none"/><line x1="678.91" y1="296.40" x2="679.19" y2="285.41"/><rect x="696.80" y="295.30" width="3.2" height="3.2" stroke="none"/></g>
<g stroke="#ff0048" fill="#ff0048" stroke-width="1.7"><line x1="698.40" y1="323.75" x2="663.14" y2="322.00"/><polygon points="663.14,322.00 665.65,311.91 668.04,322.24" stroke="none"/><polygon points="670.13,322.35 672.64,312.26 675.03,322.59" stroke="none"/><line x1="678.92" y1="322.78" x2="679.47" y2="311.80"/><line x1="683.67" y1="323.02" x2="683.97" y2="317.03"/><rect x="696.80" y="322.15" width="3.2" height="3.2" stroke="none"/></g>
<g stroke="#ff003e" fill="#ff003e" stroke-width="1.7"><line x1="698.40" y1="351.10" x2="663.20" y2="348.51"/><polygon points="663.20,348.51 665.94,338.48 668.08,348.87" stroke="none"/><polygon points="670.18,349.02 672.92,339.00 675.06,349.38" stroke="none"/><line x1="678.95" y1="349.67" x2="679.76" y2="338.70"/><line x1="683.69" y1="350.02" x2="684.13" y2="344.03"/><rect x="696.80" y="349.50" width="3.2" height="3.2" stroke="none"/></g>
<g stroke="#ff002a" fill="#ff002a" stroke-width="1.7"><line x1="698.40" y1="377.70" x2="663.20" y2="375.11"/><polygon points="663.20,375.11 665.94,365.08 668.08,375.47" stroke="none"/><polygon points="670.18,375.62 672.92,365.60 675.06,375.98" stroke="none"/><line x1="678.95" y1="376.27" x2="679.76" y2="365.30"/><rect x="696.80" y="376.10" width="3.2" height="3.2" stroke="none"/></g>
<g stroke="#ff0016" fill="#ff0016" stroke-width="1.7"><line x1="698.40" y1="403.75" x2="663.42" y2="399.04"/><polygon points="663.42,399.04 666.76,389.20 668.27,399.70" stroke="none"/><polygon points="670.35,399.98 673.70,390.13 675.21,400.63" stroke="none"/><line x1="679.07" y1="401.15" x2="679.87" y2="395.20"/><rect x="696.80" y="402.15" width="3.2" height="3.2" stroke="none"/></g>
<g stroke="#ff0c00" fill="#ff0c00" stroke-width="1.7"><line x1="698.40" y1="428.30" x2="663.52" y2="422.87"/><polygon points="663.52,422.87 667.07,413.10 668.36,423.62" stroke="none"/><polygon points="670.44,423.94 673.98,414.17 675.28,424.70" stroke="none"/><line x1="679.13" y1="425.30" x2="680.06" y2="419.37"/><rect x="696.80" y="426.70" width="3.2" height="3.2" stroke="none"/></g>
<g stroke="#ff2a00" fill="#ff2a00" stroke-width="1.7"><line x1="698.40" y1="451.50" x2="663.65" y2="445.30"/><polygon points="663.65,445.30 667.41,435.61 668.47,446.16" stroke="none"/><polygon points="670.54,446.53 674.30,436.84 675.36,447.39" stroke="none"/><rect x="696.80" y="449.90" width="3.2" height="3.2" stroke="none"/></g>
<g stroke="#ff5500" fill="#ff5500" stroke-width="1.7"><line x1="698.40" y1="472.80" x2="663.74" y2="466.12"/><polygon points="663.74,466.12 667.63,456.49 668.55,467.05" stroke="none"/><line x1="672.38" y1="467.79" x2="674.46" y2="456.99"/><line x1="677.04" y1="468.69" x2="679.12" y2="457.88"/><line x1="681.71" y1="469.58" x2="683.79" y2="458.78"/><line x1="686.37" y1="470.48" x2="688.45" y2="459.68"/><rect x="696.80" y="471.20" width="3.2" height="3.2" stroke="none"/></g>
<g stroke="#ff8400" fill="#ff8400" stroke-width="1.7"><line x1="698.40" y1="492.60" x2="663.55" y2="486.97"/><polygon points="663.55,486.97 667.15,477.22 668.39,487.75" stroke="none"/><line x1="672.24" y1="488.38" x2="673.99" y2="477.52"/><line x1="676.93" y1="489.13" x2="678.68" y2="478.27"/><line x1="681.62" y1="489.89" x2="683.37" y2="479.03"/><line x1="686.31" y1="490.65" x2="687.26" y2="484.72"/><rect x="696.80" y="491.00" width="3.2" height="3.2" stroke="none"/></g>
<g stroke="#ffb400" fill="#ffb400" stroke-width="1.7"><line x1="698.40" y1="512.20" x2="663.35" y2="508.03"/><polygon points="663.35,508.03 666.54,498.14 668.21,508.61" stroke="none"/><line x1="672.09" y1="509.07" x2="673.39" y2="498.15"/><line x1="676.80" y1="509.63" x2="678.10" y2="498.71"/><line x1="681.52" y1="510.19" x2="682.23" y2="504.23"/><rect x="696.80" y="510.60" width="3.2" height="3.2" stroke="none"/></g>
<g stroke="#ffcd00" fill="#ffcd00" stroke-width="1.7"><line x1="698.40" y1="529.90" x2="663.20" y2="527.31"/><polygon points="663.20,527.31 665.94,517.28 668.08,527.67" stroke="none"/><line x1="671.97" y1="527.95" x2="672.78" y2="516.98"/><line x1="676.71" y1="528.30" x2="677.15" y2="522.32"/><rect x="696.80" y="528.30" width="3.2" height="3.2" stroke="none"/></g>
<g stroke="#ffeb00" fill="#ffeb00" stroke-width="1.7"><line x1="698.40" y1="546.80" x2="663.12" y2="545.50"/><polygon points="663.12,545.50 665.50,535.38 668.02,545.68" stroke="none"/><line x1="671.92" y1="545.82" x2="672.32" y2="534.83"/><line x1="676.66" y1="546.00" x2="676.89" y2="540.00"/><rect x="696.80" y="545.20" width="3.2" height="3.2" stroke="none"/></g>
<g stroke="#ffff00" fill="#ffff00" stroke-width="1.7"><line x1="698.40" y1="562.70" x2="663.16" y2="560.60"/><polygon points="663.16,560.60 665.76,550.54 668.05,560.89" stroke="none"/><line x1="671.95" y1="561.13" x2="672.60" y2="550.15"/><line x1="676.69" y1="561.41" x2="677.04" y2="555.42"/><rect x="696.80" y="561.10" width="3.2" height="3.2" stroke="none"/></g>
<g stroke="#ffff00" fill="#ffff00" stroke-width="1.7"><line x1="698.40" y1="577.20" x2="663.24" y2="574.01"/><polygon points="663.24,574.01 666.16,564.04 668.12,574.46" stroke="none"/><line x1="672.01" y1="574.81" x2="673.00" y2="563.85"/><rect x="696.80" y="575.60" width="3.2" height="3.2" stroke="none"/></g>
<g stroke="#deff00" fill="#deff00" stroke-width="1.7"><line x1="698.40" y1="590.90" x2="663.51" y2="585.56"/><polygon points="663.51,585.56 667.03,575.78 668.35,586.30" stroke="none"/><line x1="672.20" y1="586.89" x2="673.11" y2="580.96"/><rect x="696.80" y="589.30" width="3.2" height="3.2" stroke="none"/></g>
<g stroke="#a0ff00" fill="#a0ff00" stroke-width="1.7"><line x1="698.40" y1="603.75" x2="663.67" y2="597.41"/><polygon points="663.67,597.41 667.48,587.73 668.50,598.29" stroke="none"/><rect x="696.80" y="602.15" width="3.2" height="3.2" stroke="none"/></g>
<g stroke="#50ff00" fill="#50ff00" stroke-width="1.7"><line x1="698.40" y1="615.70" x2="663.72" y2="609.12"/><line x1="664.11" y1="609.19" x2="666.16" y2="598.39"/><line x1="668.78" y1="610.08" x2="670.83" y2="599.27"/><line x1="673.45" y1="610.96" x2="675.50" y2="600.16"/><line x1="678.11" y1="611.85" x2="680.16" y2="601.04"/><line x1="682.78" y1="612.74" x2="683.90" y2="606.84"/><rect x="696.80" y="614.10" width="3.2" height="3.2" stroke="none"/></g>
<g stroke="#00ff2d" fill="#00ff2d" stroke-width="1.7"><line x1="698.40" y1="626.50" x2="663.91" y2="618.98"/><line x1="664.30" y1="619.06" x2="666.65" y2="608.31"/><line x1="668.94" y1="620.07" x2="671.29" y2="609.33"/><line x1="673.58" y1="621.09" x2="675.93" y2="610.34"/><line x1="678.22" y1="622.10" x2="680.57" y2="611.35"/><rect x="696.80" y="624.90" width="3.2" height="3.2" stroke="none"/></g>
<g stroke="#00ff50" fill="#00ff50" stroke-width="1.7"><line x1="698.40" y1="635.80" x2="664.65" y2="628.63"/><line x1="665.05" y1="628.71" x2="667.33" y2="617.95"/><line x1="669.69" y1="629.70" x2="671.98" y2="618.94"/><line x1="674.34" y1="630.69" x2="676.62" y2="619.93"/><line x1="678.98" y1="631.67" x2="681.27" y2="620.91"/><rect x="696.80" y="634.20" width="3.2" height="3.2" stroke="none"/></g>
<g stroke="#00ff6e" fill="#00ff6e" stroke-width="1.7"><line x1="698.40" y1="644.90" x2="666.66" y2="632.72"/><line x1="667.03" y1="632.86" x2="670.97" y2="622.59"/><line x1="671.47" y1="634.56" x2="675.41" y2="624.29"/><line x1="675.90" y1="636.26" x2="679.84" y2="625.99"/><line x1="680.34" y1="637.97" x2="682.49" y2="632.36"/><rect x="696.80" y="643.30" width="3.2" height="3.2" stroke="none"/></g>
<polygon points="671.00,642.00 675.30,646.90 682.30,653.10 688.60,659.40 692.50,665.60 694.80,671.90 696.40,678.10 697.20,687.50 697.50,710.00 699.50,710.00 699.50,697.00 700.00,683.00 703.00,680.00 706.50,676.00 709.30,671.00 710.00,665.00 709.00,660.00 706.00,655.50 702.00,651.00 698.50,648.30 690.00,645.00 680.00,642.00 672.00,640.00" fill="#00ffc8"/>
<polygon points="700,671 709.3,671 706.5,676 703,680 700,681" fill="#00eaff"/>
<g stroke="#0082ff" fill="#0082ff" stroke-width="1.7"><line x1="698.40" y1="710.00" x2="696.46" y2="676.06"/><line x1="696.48" y1="676.45" x2="707.46" y2="675.83"/><rect x="696.80" y="708.40" width="3.2" height="3.2" stroke="none"/></g>
<g stroke="#00a1ff" fill="#00a1ff" stroke-width="1.7"><line x1="698.40" y1="707.56" x2="695.67" y2="673.67"/><line x1="695.70" y1="674.07" x2="706.67" y2="673.19"/><rect x="696.80" y="705.96" width="3.2" height="3.2" stroke="none"/></g>
<g stroke="#00c0ff" fill="#00c0ff" stroke-width="1.7"><line x1="698.40" y1="705.12" x2="694.88" y2="671.30"/><line x1="694.93" y1="671.70" x2="705.87" y2="670.56"/><rect x="696.80" y="703.52" width="3.2" height="3.2" stroke="none"/></g>
<g stroke="#00e0ff" fill="#00e0ff" stroke-width="1.7"><line x1="698.40" y1="702.68" x2="693.93" y2="668.97"/><line x1="693.99" y1="669.37" x2="704.89" y2="667.93"/><rect x="696.80" y="701.08" width="3.2" height="3.2" stroke="none"/></g>
<g stroke="#00f1fa" fill="#00f1fa" stroke-width="1.7"><line x1="698.40" y1="700.24" x2="692.98" y2="666.67"/><line x1="693.04" y1="667.07" x2="703.90" y2="665.32"/><rect x="696.80" y="698.64" width="3.2" height="3.2" stroke="none"/></g>
<g stroke="#00f3f2" fill="#00f3f2" stroke-width="1.7"><line x1="698.40" y1="697.80" x2="691.80" y2="664.45"/><line x1="691.87" y1="664.84" x2="702.66" y2="662.70"/><line x1="692.80" y1="669.50" x2="698.68" y2="668.33"/><rect x="696.80" y="696.20" width="3.2" height="3.2" stroke="none"/></g>
<g stroke="#00f5e9" fill="#00f5e9" stroke-width="1.7"><line x1="698.40" y1="695.36" x2="690.38" y2="662.32"/><line x1="690.48" y1="662.71" x2="701.17" y2="660.11"/><line x1="691.60" y1="667.32" x2="697.43" y2="665.91"/><rect x="696.80" y="693.76" width="3.2" height="3.2" stroke="none"/></g>
<g stroke="#00f8e1" fill="#00f8e1" stroke-width="1.7"><line x1="698.40" y1="692.92" x2="688.98" y2="660.25"/><line x1="689.09" y1="660.63" x2="699.66" y2="657.59"/><line x1="690.41" y1="665.20" x2="696.17" y2="663.54"/><rect x="696.80" y="691.32" width="3.2" height="3.2" stroke="none"/></g>
<g stroke="#00fad8" fill="#00fad8" stroke-width="1.7"><line x1="698.40" y1="690.48" x2="687.43" y2="658.30"/><line x1="687.56" y1="658.68" x2="697.97" y2="655.13"/><line x1="689.09" y1="663.17" x2="694.77" y2="661.24"/><rect x="696.80" y="688.88" width="3.2" height="3.2" stroke="none"/></g>
<g stroke="#00fcd0" fill="#00fcd0" stroke-width="1.7"><line x1="698.40" y1="688.04" x2="685.80" y2="656.46"/><line x1="685.95" y1="656.83" x2="696.16" y2="652.76"/><line x1="687.71" y1="661.24" x2="693.28" y2="659.02"/><rect x="696.80" y="686.44" width="3.2" height="3.2" stroke="none"/></g>
<g stroke="#00ffc8" fill="#00ffc8" stroke-width="1.7"><line x1="698.40" y1="685.60" x2="684.20" y2="654.71"/><line x1="684.37" y1="655.07" x2="694.37" y2="650.48"/><line x1="686.35" y1="659.39" x2="696.35" y2="654.79"/><rect x="696.80" y="684.00" width="3.2" height="3.2" stroke="none"/></g>
<g stroke="#00ffc4" fill="#00ffc4" stroke-width="1.7"><line x1="698.40" y1="683.16" x2="682.64" y2="653.03"/><line x1="682.83" y1="653.39" x2="692.58" y2="648.29"/><line x1="685.03" y1="657.59" x2="694.78" y2="652.50"/><rect x="696.80" y="681.56" width="3.2" height="3.2" stroke="none"/></g>
<g stroke="#00ffc1" fill="#00ffc1" stroke-width="1.7"><line x1="698.40" y1="680.72" x2="681.04" y2="651.49"/><line x1="681.24" y1="651.83" x2="690.70" y2="646.21"/><line x1="683.67" y1="655.91" x2="693.13" y2="650.30"/><rect x="696.80" y="679.12" width="3.2" height="3.2" stroke="none"/></g>
<g stroke="#00ffbe" fill="#00ffbe" stroke-width="1.7"><line x1="698.40" y1="678.28" x2="679.41" y2="650.08"/><line x1="679.63" y1="650.41" x2="688.75" y2="644.27"/><line x1="682.28" y1="654.35" x2="691.41" y2="648.21"/><rect x="696.80" y="676.68" width="3.2" height="3.2" stroke="none"/></g>
<g stroke="#00ffba" fill="#00ffba" stroke-width="1.7"><line x1="698.40" y1="675.84" x2="677.84" y2="648.76"/><line x1="678.08" y1="649.08" x2="686.84" y2="642.43"/><line x1="680.95" y1="652.86" x2="689.71" y2="646.21"/><rect x="696.80" y="674.24" width="3.2" height="3.2" stroke="none"/></g>
<g stroke="#00ffb7" fill="#00ffb7" stroke-width="1.7"><line x1="698.40" y1="673.40" x2="676.33" y2="647.53"/><line x1="676.59" y1="647.84" x2="684.96" y2="640.70"/><line x1="679.68" y1="651.45" x2="688.04" y2="644.31"/><rect x="696.80" y="671.80" width="3.2" height="3.2" stroke="none"/></g>
<g stroke="#00ffb4" fill="#00ffb4" stroke-width="1.7"><line x1="698.40" y1="670.96" x2="674.90" y2="646.39"/><line x1="675.18" y1="646.68" x2="683.13" y2="639.07"/><line x1="678.46" y1="650.11" x2="686.41" y2="642.51"/><line x1="681.74" y1="653.54" x2="686.08" y2="649.40"/><rect x="696.80" y="669.36" width="3.2" height="3.2" stroke="none"/></g>
<g stroke="#00ffb0" fill="#00ffb0" stroke-width="1.7"><line x1="698.40" y1="668.52" x2="673.69" y2="645.17"/><line x1="673.98" y1="645.45" x2="681.53" y2="637.45"/><line x1="677.43" y1="648.71" x2="684.98" y2="640.71"/><line x1="680.88" y1="651.97" x2="685.00" y2="647.61"/><rect x="696.80" y="666.92" width="3.2" height="3.2" stroke="none"/></g>
<g stroke="#00ffad" fill="#00ffad" stroke-width="1.7"><line x1="698.40" y1="666.08" x2="672.62" y2="643.91"/><line x1="672.92" y1="644.17" x2="680.09" y2="635.83"/><line x1="676.52" y1="647.27" x2="683.70" y2="638.93"/><line x1="680.13" y1="650.37" x2="684.04" y2="645.82"/><rect x="696.80" y="664.48" width="3.2" height="3.2" stroke="none"/></g>
<g stroke="#00ffaa" fill="#00ffaa" stroke-width="1.7"><line x1="698.40" y1="663.64" x2="671.61" y2="642.71"/><line x1="671.92" y1="642.95" x2="678.70" y2="634.28"/><line x1="675.67" y1="645.88" x2="682.44" y2="637.21"/><line x1="679.41" y1="648.80" x2="683.10" y2="644.07"/><rect x="696.80" y="662.04" width="3.2" height="3.2" stroke="none"/></g>
<g stroke="#00ffa6" fill="#00ffa6" stroke-width="1.7"><line x1="698.40" y1="661.20" x2="670.66" y2="641.54"/><line x1="670.98" y1="641.77" x2="677.34" y2="632.80"/><line x1="674.86" y1="644.52" x2="681.22" y2="635.55"/><line x1="678.74" y1="647.27" x2="682.20" y2="642.37"/><rect x="696.80" y="659.60" width="3.2" height="3.2" stroke="none"/></g>
<g stroke="#00ffa3" fill="#00ffa3" stroke-width="1.7"><line x1="698.40" y1="658.76" x2="669.95" y2="640.14"/><line x1="670.29" y1="640.36" x2="676.31" y2="631.15"/><line x1="674.26" y1="642.96" x2="680.29" y2="633.75"/><line x1="678.24" y1="645.56" x2="684.26" y2="636.36"/><rect x="696.80" y="657.16" width="3.2" height="3.2" stroke="none"/></g>
<g stroke="#00ffa0" fill="#00ffa0" stroke-width="1.7"><line x1="698.40" y1="656.32" x2="669.46" y2="638.48"/><line x1="669.80" y1="638.69" x2="675.57" y2="629.32"/><line x1="673.84" y1="641.18" x2="679.62" y2="631.81"/><line x1="677.89" y1="643.67" x2="683.66" y2="634.31"/><rect x="696.80" y="654.72" width="3.2" height="3.2" stroke="none"/></g>
<g stroke="#00ff9c" fill="#00ff9c" stroke-width="1.7"><line x1="698.40" y1="653.88" x2="668.99" y2="636.83"/><line x1="669.33" y1="637.03" x2="674.85" y2="627.51"/><line x1="673.44" y1="639.41" x2="678.96" y2="629.89"/><line x1="677.55" y1="641.79" x2="683.07" y2="632.28"/><rect x="696.80" y="652.28" width="3.2" height="3.2" stroke="none"/></g>
<g stroke="#00ff99" fill="#00ff99" stroke-width="1.7"><line x1="698.40" y1="651.44" x2="668.54" y2="635.19"/><line x1="668.89" y1="635.38" x2="674.14" y2="625.72"/><line x1="673.06" y1="637.65" x2="678.32" y2="627.99"/><line x1="677.23" y1="639.92" x2="682.49" y2="630.26"/><rect x="696.80" y="649.84" width="3.2" height="3.2" stroke="none"/></g>
<g stroke="#00ff96" fill="#00ff96" stroke-width="1.7"><line x1="698.40" y1="649.00" x2="668.11" y2="633.56"/><line x1="668.46" y1="633.75" x2="673.46" y2="623.94"/><line x1="672.69" y1="635.90" x2="677.69" y2="626.10"/><line x1="676.93" y1="638.06" x2="681.92" y2="628.26"/><rect x="696.80" y="647.40" width="3.2" height="3.2" stroke="none"/></g>
<g clip-path="url(#hbox)">
<ellipse cx="837.90" cy="135.60" rx="30.83" ry="30.07" fill="none" stroke="#000" stroke-width="1.2"/>
<ellipse cx="837.90" cy="135.60" rx="61.65" ry="60.15" fill="none" stroke="#000" stroke-width="1.2"/>
<ellipse cx="837.90" cy="135.60" rx="92.48" ry="90.22" fill="none" stroke="#000" stroke-width="1.2"/>
</g>
<line x1="745" y1="135.60" x2="931" y2="135.60" stroke="#000" stroke-width="1.2"/>
<line x1="837.90" y1="45" x2="837.90" y2="226" stroke="#000" stroke-width="1.2"/>
<path d="M745.42 133.00V138.20M835.30 45.38H840.50M755.70 133.00V138.20M835.30 55.40H840.50M765.97 133.00V138.20M835.30 65.42H840.50M776.25 133.00V138.20M835.30 75.45H840.50M786.52 133.00V138.20M835.30 85.47H840.50M796.80 133.00V138.20M835.30 95.50H840.50M807.07 133.00V138.20M835.30 105.52H840.50M817.35 133.00V138.20M835.30 115.55H840.50M827.62 133.00V138.20M835.30 125.57H840.50M848.17 133.00V138.20M835.30 145.62H840.50M858.45 133.00V138.20M835.30 155.65H840.50M868.73 133.00V138.20M835.30 165.67H840.50M879.00 133.00V138.20M835.30 175.70H840.50M889.27 133.00V138.20M835.30 185.72H840.50M899.55 133.00V138.20M835.30 195.75H840.50M909.83 133.00V138.20M835.30 205.77H840.50M920.10 133.00V138.20M835.30 215.80H840.50M930.38 133.00V138.20M835.30 225.82H840.50" stroke="#000" stroke-width="1.2" fill="none"/>
<rect x="744.9" y="45.2" width="186.1" height="180.6" fill="none" stroke="#000" stroke-width="2"/>
<text x="748.60" y="59.40" font-size="13.50" textLength="39.40" lengthAdjust="spacingAndGlyphs">knots</text>
<text x="0" y="0" font-size="14" text-anchor="middle" textLength="16.8" lengthAdjust="spacingAndGlyphs" transform="translate(816.10 156.87) rotate(-45) translate(0 5.0)">15</text>
<text x="0" y="0" font-size="14" text-anchor="middle" textLength="16.8" lengthAdjust="spacingAndGlyphs" transform="translate(794.31 178.13) rotate(-45) translate(0 5.0)">30</text>
<text x="0" y="0" font-size="14" text-anchor="middle" textLength="16.8" lengthAdjust="spacingAndGlyphs" transform="translate(772.51 199.40) rotate(-45) translate(0 5.0)">45</text>
<line x1="837.90" y1="135.60" x2="929.60" y2="182.00" stroke="#ff4040" stroke-width="1.4"/>
<polygon points="931.5,178.8 926.6,186.2 936.6,186.4" fill="#ff3c3c"/>
<polyline points="839.70,150.80 839.50,160.00 839.40,169.10 839.00,187.30 841.40,187.30 845.00,184.20 848.50,181.00 853.75,174.90 858.00,171.60 862.70,169.10 870.50,165.60 878.30,165.90 883.70,163.70 887.60,158.80 895.90,155.90 908.60,152.00 918.40,149.50 930.10,152.30 937.90,153.90" fill="none" stroke="#00dc00" stroke-width="2.8" stroke-linejoin="round"/>
<rect x="837.6" y="148.4" width="4.6" height="4.6" fill="#00dc00"/>
<rect x="936.0" y="152.0" width="3.8" height="3.8" fill="#00dc00"/>
<g fill="none" stroke="#222" stroke-width="1.4">
<rect x="768.3" y="271" width="157.7" height="402.2"/>
<line x1="768.3" y1="329.1" x2="926" y2="329.1"/>
<line x1="768.3" y1="456.2" x2="926" y2="456.2"/>
<line x1="768.3" y1="582.3" x2="926" y2="582.3"/>
</g>
<text x="0.00" y="0.00" font-size="12.60" textLength="8.40" lengthAdjust="spacing" transform="translate(772.74 289.60) scale(1.120 1)">K</text>
<text x="0.00" y="0.00" font-size="12.60" textLength="24.34" lengthAdjust="spacing" transform="translate(871.34 289.60) scale(1.200 1)">−32</text>
<text x="0.00" y="0.00" font-size="12.60" textLength="15.39" lengthAdjust="spacing" transform="translate(772.74 307.30) scale(0.949 1)">TT</text>
<text x="0.00" y="0.00" font-size="12.60" textLength="14.43" lengthAdjust="spacing" transform="translate(871.34 307.30) scale(1.200 1)">15</text>
<text x="0.00" y="0.00" font-size="12.60" textLength="20.30" lengthAdjust="spacing" transform="translate(772.74 320.60) scale(1.001 1)">PW</text>
<text x="0.00" y="0.00" font-size="12.60" textLength="29.76" lengthAdjust="spacing" transform="translate(801.14 320.60) scale(1.200 1)">(cm)</text>
<text x="0.00" y="0.00" font-size="12.60" textLength="26.84" lengthAdjust="spacing" transform="translate(870.54 320.60) scale(1.200 1)">0.29</text>
<text x="0.00" y="0.00" font-size="12.60" textLength="41.51" lengthAdjust="spacing" transform="translate(795.54 347.80) scale(1.200 1)">Lowest</text>
<text x="0.00" y="0.00" font-size="12.60" textLength="26.68" lengthAdjust="spacing" transform="translate(853.14 347.80) scale(1.200 1)">level</text>
<text x="0.00" y="0.00" font-size="12.60" textLength="33.01" lengthAdjust="spacing" transform="translate(772.74 370.30) scale(1.200 1)">Press</text>
<text x="0.00" y="0.00" font-size="12.60" textLength="29.76" lengthAdjust="spacing" transform="translate(821.44 370.30) scale(1.200 1)">(mb)</text>
<text x="0.00" y="0.00" font-size="12.60" textLength="41.59" lengthAdjust="spacing" transform="translate(871.24 370.30) scale(1.200 1)">1001.2</text>
<text x="0.00" y="0.00" font-size="12.60" textLength="31.59" lengthAdjust="spacing" transform="translate(772.74 383.75) scale(1.200 1)">Temp</text>
<text x="0.00" y="0.00" font-size="12.60" textLength="23.84" lengthAdjust="spacing" transform="translate(820.14 383.75) scale(1.200 1)">(<tspan font-weight="bold">°</tspan>C)</text>
<text x="0.00" y="0.00" font-size="12.60" textLength="28.51" lengthAdjust="spacing" transform="translate(871.24 383.75) scale(1.200 1)">−6.9</text>
<text x="0.00" y="0.00" font-size="12.60" textLength="32.21" lengthAdjust="spacing" transform="translate(772.74 397.20) scale(1.161 1)">Dewp</text>
<text x="0.00" y="0.00" font-size="12.60" textLength="23.59" lengthAdjust="spacing" transform="translate(818.74 397.20) scale(1.200 1)">(<tspan font-weight="bold">°</tspan>C)</text>
<text x="0.00" y="0.00" font-size="12.60" textLength="36.26" lengthAdjust="spacing" transform="translate(871.24 397.20) scale(1.200 1)">−13.0</text>
<text x="0.00" y="0.00" font-size="12.60" textLength="15.41" lengthAdjust="spacing" transform="translate(772.74 410.65) scale(0.864 1)"><tspan font-weight="bold" font-style="italic">θ</tspan><tspan font-size="7" dy="2" font-weight="bold">E</tspan></text>
<text x="0.00" y="0.00" font-size="12.60" textLength="18.68" lengthAdjust="spacing" transform="translate(793.84 410.65) scale(1.200 1)">(K)</text>
<text x="0.00" y="0.00" font-size="12.60" textLength="34.18" lengthAdjust="spacing" transform="translate(871.24 410.65) scale(1.200 1)">269.7</text>
<text x="0.00" y="0.00" font-size="12.60" textLength="10.51" lengthAdjust="spacing" transform="translate(772.74 424.10) scale(1.105 1)">LI</text>
<text x="0.00" y="0.00" font-size="12.60" textLength="23.84" lengthAdjust="spacing" transform="translate(793.04 424.10) scale(1.200 1)">(<tspan font-weight="bold">°</tspan>C)</text>
<text x="0.00" y="0.00" font-size="12.60" textLength="26.26" lengthAdjust="spacing" transform="translate(871.24 424.10) scale(1.200 1)">26.6</text>
<text x="0.00" y="0.00" font-size="12.60" textLength="34.31" lengthAdjust="spacing" transform="translate(772.74 437.55) scale(1.070 1)">CAPE</text>
<text x="0.00" y="0.00" font-size="12.60" textLength="42.37" lengthAdjust="spacing" transform="translate(818.04 437.55) scale(1.084 1)">(Jkg<tspan font-size="8" dy="-4.5">−1</tspan><tspan dy="4.5">)</tspan></text>
<text x="0.00" y="0.00" font-size="12.60" textLength="7.01" lengthAdjust="spacing" transform="translate(871.24 437.55) scale(1.129 1)">0</text>
<text x="0.00" y="0.00" font-size="12.60" textLength="21.70" lengthAdjust="spacing" transform="translate(772.74 451.00) scale(1.084 1)">CIN</text>
<text x="0.00" y="0.00" font-size="12.60" textLength="42.37" lengthAdjust="spacing" transform="translate(804.84 451.00) scale(1.077 1)">(Jkg<tspan font-size="8" dy="-4.5">−1</tspan><tspan dy="4.5">)</tspan></text>
<text x="0.00" y="0.00" font-size="12.60" textLength="7.01" lengthAdjust="spacing" transform="translate(871.24 451.00) scale(1.129 1)">0</text>
<text x="0.00" y="0.00" font-size="12.60" textLength="28.01" lengthAdjust="spacing" transform="translate(791.54 474.00) scale(1.200 1)">Most</text>
<text x="0.00" y="0.00" font-size="12.60" textLength="52.09" lengthAdjust="spacing" transform="translate(833.54 474.00) scale(1.200 1)">Unstable</text>
<text x="0.00" y="0.00" font-size="12.60" textLength="33.01" lengthAdjust="spacing" transform="translate(772.74 497.30) scale(1.200 1)">Press</text>
<text x="0.00" y="0.00" font-size="12.60" textLength="29.76" lengthAdjust="spacing" transform="translate(821.44 497.30) scale(1.200 1)">(mb)</text>
<text x="0.00" y="0.00" font-size="12.60" textLength="35.01" lengthAdjust="spacing" transform="translate(870.84 497.30) scale(1.200 1)">777.4</text>
<text x="0.00" y="0.00" font-size="12.60" textLength="31.59" lengthAdjust="spacing" transform="translate(772.74 510.75) scale(1.200 1)">Temp</text>
<text x="0.00" y="0.00" font-size="12.60" textLength="23.84" lengthAdjust="spacing" transform="translate(820.14 510.75) scale(1.200 1)">(<tspan font-weight="bold">°</tspan>C)</text>
<text x="0.00" y="0.00" font-size="12.60" textLength="29.09" lengthAdjust="spacing" transform="translate(870.84 510.75) scale(1.200 1)">−6.9</text>
<text x="0.00" y="0.00" font-size="12.60" textLength="32.21" lengthAdjust="spacing" transform="translate(772.74 524.20) scale(1.161 1)">Dewp</text>
<text x="0.00" y="0.00" font-size="12.60" textLength="23.59" lengthAdjust="spacing" transform="translate(818.74 524.20) scale(1.200 1)">(<tspan font-weight="bold">°</tspan>C)</text>
<text x="0.00" y="0.00" font-size="12.60" textLength="36.76" lengthAdjust="spacing" transform="translate(870.84 524.20) scale(1.200 1)">−13.0</text>
<text x="0.00" y="0.00" font-size="12.60" textLength="15.41" lengthAdjust="spacing" transform="translate(772.74 537.65) scale(0.864 1)"><tspan font-weight="bold" font-style="italic">θ</tspan><tspan font-size="7" dy="2" font-weight="bold">E</tspan></text>
<text x="0.00" y="0.00" font-size="12.60" textLength="18.68" lengthAdjust="spacing" transform="translate(793.84 537.65) scale(1.200 1)">(K)</text>
<text x="0.00" y="0.00" font-size="12.60" textLength="34.26" lengthAdjust="spacing" transform="translate(870.84 537.65) scale(1.200 1)">280.6</text>
<text x="0.00" y="0.00" font-size="12.60" textLength="10.51" lengthAdjust="spacing" transform="translate(772.74 551.10) scale(1.105 1)">LI</text>
<text x="0.00" y="0.00" font-size="12.60" textLength="23.84" lengthAdjust="spacing" transform="translate(793.04 551.10) scale(1.200 1)">(<tspan font-weight="bold">°</tspan>C)</text>
<text x="0.00" y="0.00" font-size="12.60" textLength="26.76" lengthAdjust="spacing" transform="translate(870.84 551.10) scale(1.200 1)">18.5</text>
<text x="0.00" y="0.00" font-size="12.60" textLength="34.31" lengthAdjust="spacing" transform="translate(772.74 564.55) scale(1.070 1)">CAPE</text>
<text x="0.00" y="0.00" font-size="12.60" textLength="42.37" lengthAdjust="spacing" transform="translate(818.04 564.55) scale(1.084 1)">(Jkg<tspan font-size="8" dy="-4.5">−1</tspan><tspan dy="4.5">)</tspan></text>
<text x="0.00" y="0.00" font-size="12.60" textLength="7.01" lengthAdjust="spacing" transform="translate(870.84 564.55) scale(1.186 1)">0</text>
<text x="0.00" y="0.00" font-size="12.60" textLength="21.70" lengthAdjust="spacing" transform="translate(772.74 578.00) scale(1.084 1)">CIN</text>
<text x="0.00" y="0.00" font-size="12.60" textLength="42.37" lengthAdjust="spacing" transform="translate(804.84 578.00) scale(1.077 1)">(Jkg<tspan font-size="8" dy="-4.5">−1</tspan><tspan dy="4.5">)</tspan></text>
<text x="0.00" y="0.00" font-size="12.60" textLength="7.01" lengthAdjust="spacing" transform="translate(870.84 578.00) scale(1.186 1)">0</text>
<text x="0.00" y="0.00" font-size="12.60" textLength="64.93" lengthAdjust="spacing" transform="translate(805.64 596.10) scale(1.200 1)">Hodograph</text>
<text x="0.00" y="0.00" font-size="12.60" textLength="17.50" lengthAdjust="spacing" transform="translate(772.74 614.70) scale(1.046 1)">EH</text>
<text x="0.00" y="0.00" font-size="12.60" textLength="42.37" lengthAdjust="spacing" transform="translate(800.44 614.70) scale(1.086 1)">(Jkg<tspan font-size="8" dy="-4.5">−1</tspan><tspan dy="4.5">)</tspan></text>
<text x="0.00" y="0.00" font-size="12.60" textLength="33.01" lengthAdjust="spacing" transform="translate(870.84 614.70) scale(1.200 1)">−224</text>
<text x="0.00" y="0.00" font-size="12.60" textLength="35.01" lengthAdjust="spacing" transform="translate(772.74 628.10) scale(1.069 1)">SREH</text>
<text x="0.00" y="0.00" font-size="12.60" textLength="42.37" lengthAdjust="spacing" transform="translate(819.64 628.10) scale(1.084 1)">(Jkg<tspan font-size="8" dy="-4.5">−1</tspan><tspan dy="4.5">)</tspan></text>
<text x="0.00" y="0.00" font-size="12.60" textLength="23.01" lengthAdjust="spacing" transform="translate(870.84 628.10) scale(1.200 1)">126</text>
<text x="0.00" y="0.00" font-size="12.60" textLength="40.68" lengthAdjust="spacing" transform="translate(772.74 650.60) scale(1.200 1)">StmDir</text>
<text x="0.00" y="0.00" font-size="12.60" textLength="15.51" lengthAdjust="spacing" transform="translate(829.84 650.60) scale(1.200 1)">(<tspan font-weight="bold">°</tspan>)</text>
<text x="0.00" y="0.00" font-size="12.60" textLength="23.01" lengthAdjust="spacing" transform="translate(870.84 650.60) scale(1.200 1)">297</text>
<text x="0.00" y="0.00" font-size="12.60" textLength="46.01" lengthAdjust="spacing" transform="translate(772.74 664.10) scale(1.200 1)">StmSpd</text>
<text x="0.00" y="0.00" font-size="12.60" textLength="21.93" lengthAdjust="spacing" transform="translate(836.74 664.10) scale(1.200 1)">(kt)</text>
<text x="0.00" y="0.00" font-size="12.60" textLength="15.59" lengthAdjust="spacing" transform="translate(870.84 664.10) scale(1.200 1)">53</text>
<text x="750.52" y="706.20" font-size="16.30" textLength="47.06" lengthAdjust="spacingAndGlyphs">NCEP</text>
<text x="810.62" y="706.20" font-size="16.30" textLength="44.96" lengthAdjust="spacingAndGlyphs">1−Hr</text>
<text x="866.52" y="706.20" font-size="16.30" textLength="58.86" lengthAdjust="spacingAndGlyphs">PType:</text>
<line x1="744" y1="711.4" x2="931.5" y2="711.4" stroke="#000" stroke-width="1.6"/>
<text x="815.02" y="729.00" font-size="16.30" textLength="45.96" lengthAdjust="spacingAndGlyphs">None</text>
<text x="805.53" y="749.80" font-size="12.80" textLength="23.04" lengthAdjust="spacingAndGlyphs">(0"</text>
<text x="835.53" y="749.80" font-size="12.80" textLength="34.44" lengthAdjust="spacingAndGlyphs">L.E.)</text>
</svg>
</body></html>
